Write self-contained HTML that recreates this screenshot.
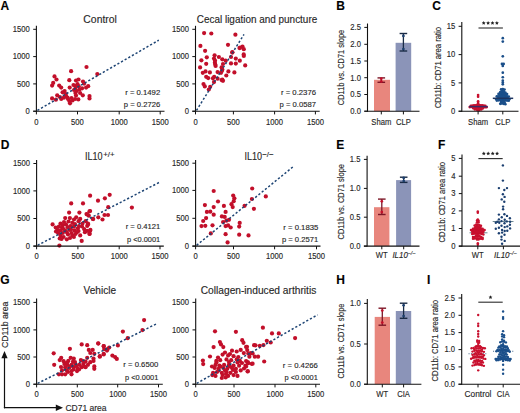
<!DOCTYPE html><html><head><meta charset="utf-8"><style>html,body{margin:0;padding:0;background:#fff;}svg{display:block;}</style></head><body><svg width="520" height="413" viewBox="0 0 520 413" font-family='"Liberation Sans", sans-serif'>
<style>text{stroke:#2a2a2a;stroke-width:0.14px;stroke-linejoin:round}</style>
<rect width="520" height="413" fill="#fff"/>
<text x="0.60" y="10.09" font-size="12.0" text-anchor="start" fill="#000" font-weight="bold">A</text>
<text x="336.20" y="9.99" font-size="12.0" text-anchor="start" fill="#000" font-weight="bold">B</text>
<text x="432.20" y="9.99" font-size="12.0" text-anchor="start" fill="#000" font-weight="bold">C</text>
<text x="100.10" y="22.90" font-size="10.4" text-anchor="middle" fill="#262626" font-weight="normal" textLength="33.5" lengthAdjust="spacingAndGlyphs">Control</text>
<circle cx="86.50" cy="67.00" r="2.1" fill="#c20f2a"/>
<circle cx="71.10" cy="71.20" r="2.1" fill="#c20f2a"/>
<circle cx="97.30" cy="74.10" r="2.1" fill="#c20f2a"/>
<circle cx="54.50" cy="76.40" r="2.1" fill="#c20f2a"/>
<circle cx="56.50" cy="79.50" r="2.1" fill="#c20f2a"/>
<circle cx="69.30" cy="80.20" r="2.1" fill="#c20f2a"/>
<circle cx="76.00" cy="80.50" r="2.1" fill="#c20f2a"/>
<circle cx="78.50" cy="79.50" r="2.1" fill="#c20f2a"/>
<circle cx="83.00" cy="81.50" r="2.1" fill="#c20f2a"/>
<circle cx="84.10" cy="83.60" r="2.1" fill="#c20f2a"/>
<circle cx="53.20" cy="82.90" r="2.1" fill="#c20f2a"/>
<circle cx="52.10" cy="85.60" r="2.1" fill="#c20f2a"/>
<circle cx="59.20" cy="85.60" r="2.1" fill="#c20f2a"/>
<circle cx="61.20" cy="87.60" r="2.1" fill="#c20f2a"/>
<circle cx="69.70" cy="87.60" r="2.1" fill="#c20f2a"/>
<circle cx="75.40" cy="86.20" r="2.1" fill="#c20f2a"/>
<circle cx="78.70" cy="86.20" r="2.1" fill="#c20f2a"/>
<circle cx="88.20" cy="86.20" r="2.1" fill="#c20f2a"/>
<circle cx="86.10" cy="87.60" r="2.1" fill="#c20f2a"/>
<circle cx="82.10" cy="88.30" r="2.1" fill="#c20f2a"/>
<circle cx="75.40" cy="88.90" r="2.1" fill="#c20f2a"/>
<circle cx="76.70" cy="91.00" r="2.1" fill="#c20f2a"/>
<circle cx="64.60" cy="91.00" r="2.1" fill="#c20f2a"/>
<circle cx="62.60" cy="92.30" r="2.1" fill="#c20f2a"/>
<circle cx="75.40" cy="93.00" r="2.1" fill="#c20f2a"/>
<circle cx="80.10" cy="93.00" r="2.1" fill="#c20f2a"/>
<circle cx="82.80" cy="95.30" r="2.1" fill="#c20f2a"/>
<circle cx="57.20" cy="95.30" r="2.1" fill="#c20f2a"/>
<circle cx="66.00" cy="96.10" r="2.1" fill="#c20f2a"/>
<circle cx="89.50" cy="96.10" r="2.1" fill="#c20f2a"/>
<circle cx="89.50" cy="98.40" r="2.1" fill="#c20f2a"/>
<circle cx="52.10" cy="98.40" r="2.1" fill="#c20f2a"/>
<circle cx="55.90" cy="99.70" r="2.1" fill="#c20f2a"/>
<circle cx="61.20" cy="99.00" r="2.1" fill="#c20f2a"/>
<circle cx="68.00" cy="99.00" r="2.1" fill="#c20f2a"/>
<circle cx="75.10" cy="99.00" r="2.1" fill="#c20f2a"/>
<circle cx="78.30" cy="99.40" r="2.1" fill="#c20f2a"/>
<circle cx="69.30" cy="101.00" r="2.1" fill="#c20f2a"/>
<circle cx="70.00" cy="103.30" r="2.1" fill="#c20f2a"/>
<circle cx="59.90" cy="97.00" r="2.1" fill="#c20f2a"/>
<circle cx="63.90" cy="97.70" r="2.1" fill="#c20f2a"/>
<circle cx="73.50" cy="85.00" r="2.1" fill="#c20f2a"/>
<circle cx="77.50" cy="84.00" r="2.1" fill="#c20f2a"/>
<circle cx="74.00" cy="90.00" r="2.1" fill="#c20f2a"/>
<circle cx="65.80" cy="94.00" r="2.1" fill="#c20f2a"/>
<circle cx="67.50" cy="97.50" r="2.1" fill="#c20f2a"/>
<circle cx="71.50" cy="98.00" r="2.1" fill="#c20f2a"/>
<circle cx="72.50" cy="100.50" r="2.1" fill="#c20f2a"/>
<circle cx="76.00" cy="95.50" r="2.1" fill="#c20f2a"/>
<circle cx="79.50" cy="89.50" r="2.1" fill="#c20f2a"/>
<line x1="37.40" y1="110.40" x2="158.80" y2="40.20" stroke="#1d4474" stroke-width="1.5" stroke-dasharray="2.2 2.0"/>
<line x1="36.40" y1="25.80" x2="36.40" y2="111.70" stroke="#111" stroke-width="1.1"/>
<line x1="33.20" y1="111.20" x2="36.40" y2="111.20" stroke="#111" stroke-width="1.0"/>
<text x="29.80" y="114.00" font-size="8.5" text-anchor="end" fill="#262626" font-weight="normal" textLength="4.25" lengthAdjust="spacingAndGlyphs">0</text>
<line x1="33.20" y1="83.90" x2="36.40" y2="83.90" stroke="#111" stroke-width="1.0"/>
<text x="29.80" y="86.70" font-size="8.5" text-anchor="end" fill="#262626" font-weight="normal" textLength="12.76" lengthAdjust="spacingAndGlyphs">500</text>
<line x1="33.20" y1="56.60" x2="36.40" y2="56.60" stroke="#111" stroke-width="1.0"/>
<text x="29.80" y="59.40" font-size="8.5" text-anchor="end" fill="#262626" font-weight="normal" textLength="17.02" lengthAdjust="spacingAndGlyphs">1000</text>
<line x1="33.20" y1="29.30" x2="36.40" y2="29.30" stroke="#111" stroke-width="1.0"/>
<text x="29.80" y="32.10" font-size="8.5" text-anchor="end" fill="#262626" font-weight="normal" textLength="17.02" lengthAdjust="spacingAndGlyphs">1500</text>
<line x1="33.20" y1="111.20" x2="164.50" y2="111.20" stroke="#111" stroke-width="1.1"/>
<line x1="36.40" y1="111.20" x2="36.40" y2="114.40" stroke="#111" stroke-width="1.0"/>
<text x="36.40" y="124.60" font-size="8.5" text-anchor="middle" fill="#262626" font-weight="normal" textLength="4.25" lengthAdjust="spacingAndGlyphs">0</text>
<line x1="77.50" y1="111.20" x2="77.50" y2="114.40" stroke="#111" stroke-width="1.0"/>
<text x="77.50" y="124.60" font-size="8.5" text-anchor="middle" fill="#262626" font-weight="normal" textLength="12.76" lengthAdjust="spacingAndGlyphs">500</text>
<line x1="119.20" y1="111.20" x2="119.20" y2="114.40" stroke="#111" stroke-width="1.0"/>
<text x="119.20" y="124.60" font-size="8.5" text-anchor="middle" fill="#262626" font-weight="normal" textLength="17.02" lengthAdjust="spacingAndGlyphs">1000</text>
<line x1="160.20" y1="111.20" x2="160.20" y2="114.40" stroke="#111" stroke-width="1.0"/>
<text x="160.20" y="124.60" font-size="8.5" text-anchor="middle" fill="#262626" font-weight="normal" textLength="17.02" lengthAdjust="spacingAndGlyphs">1500</text>
<text x="160.20" y="94.90" font-size="7.6" text-anchor="end" fill="#262626" font-weight="normal" textLength="35.0" lengthAdjust="spacingAndGlyphs">r = 0.1492</text>
<text x="160.20" y="106.70" font-size="7.6" text-anchor="end" fill="#262626" font-weight="normal" textLength="36.4" lengthAdjust="spacingAndGlyphs">p = 0.2726</text>
<text x="257.00" y="22.60" font-size="10.4" text-anchor="middle" fill="#262626" font-weight="normal" textLength="120.5" lengthAdjust="spacingAndGlyphs">Cecal ligation and puncture</text>
<circle cx="204.10" cy="33.10" r="2.1" fill="#c20f2a"/>
<circle cx="211.30" cy="33.50" r="2.1" fill="#c20f2a"/>
<circle cx="235.40" cy="34.70" r="2.1" fill="#c20f2a"/>
<circle cx="200.40" cy="45.90" r="2.1" fill="#c20f2a"/>
<circle cx="228.00" cy="44.80" r="2.1" fill="#c20f2a"/>
<circle cx="240.10" cy="47.60" r="2.1" fill="#c20f2a"/>
<circle cx="242.50" cy="46.50" r="2.1" fill="#c20f2a"/>
<circle cx="243.80" cy="49.20" r="2.1" fill="#c20f2a"/>
<circle cx="205.10" cy="50.80" r="2.1" fill="#c20f2a"/>
<circle cx="232.40" cy="52.60" r="2.1" fill="#c20f2a"/>
<circle cx="243.80" cy="56.00" r="2.1" fill="#c20f2a"/>
<circle cx="214.60" cy="55.30" r="2.1" fill="#c20f2a"/>
<circle cx="206.80" cy="57.30" r="2.1" fill="#c20f2a"/>
<circle cx="218.90" cy="57.00" r="2.1" fill="#c20f2a"/>
<circle cx="231.00" cy="57.00" r="2.1" fill="#c20f2a"/>
<circle cx="235.80" cy="58.60" r="2.1" fill="#c20f2a"/>
<circle cx="201.40" cy="60.30" r="2.1" fill="#c20f2a"/>
<circle cx="214.00" cy="58.60" r="2.1" fill="#c20f2a"/>
<circle cx="222.30" cy="59.30" r="2.1" fill="#c20f2a"/>
<circle cx="225.70" cy="60.70" r="2.1" fill="#c20f2a"/>
<circle cx="239.80" cy="60.70" r="2.1" fill="#c20f2a"/>
<circle cx="206.20" cy="63.80" r="2.1" fill="#c20f2a"/>
<circle cx="214.90" cy="62.70" r="2.1" fill="#c20f2a"/>
<circle cx="231.00" cy="63.40" r="2.1" fill="#c20f2a"/>
<circle cx="235.80" cy="63.60" r="2.1" fill="#c20f2a"/>
<circle cx="223.00" cy="64.00" r="2.1" fill="#c20f2a"/>
<circle cx="245.20" cy="65.40" r="2.1" fill="#c20f2a"/>
<circle cx="200.10" cy="67.40" r="2.1" fill="#c20f2a"/>
<circle cx="215.60" cy="66.00" r="2.1" fill="#c20f2a"/>
<circle cx="221.60" cy="67.40" r="2.1" fill="#c20f2a"/>
<circle cx="222.30" cy="69.40" r="2.1" fill="#c20f2a"/>
<circle cx="202.80" cy="72.80" r="2.1" fill="#c20f2a"/>
<circle cx="205.50" cy="71.40" r="2.1" fill="#c20f2a"/>
<circle cx="209.90" cy="72.40" r="2.1" fill="#c20f2a"/>
<circle cx="217.60" cy="72.10" r="2.1" fill="#c20f2a"/>
<circle cx="221.00" cy="72.80" r="2.1" fill="#c20f2a"/>
<circle cx="228.40" cy="71.40" r="2.1" fill="#c20f2a"/>
<circle cx="234.40" cy="72.40" r="2.1" fill="#c20f2a"/>
<circle cx="226.30" cy="75.50" r="2.1" fill="#c20f2a"/>
<circle cx="206.20" cy="76.80" r="2.1" fill="#c20f2a"/>
<circle cx="214.20" cy="76.80" r="2.1" fill="#c20f2a"/>
<circle cx="222.30" cy="79.50" r="2.1" fill="#c20f2a"/>
<circle cx="208.20" cy="78.10" r="2.1" fill="#c20f2a"/>
<circle cx="212.90" cy="78.30" r="2.1" fill="#c20f2a"/>
<circle cx="217.60" cy="78.70" r="2.1" fill="#c20f2a"/>
<circle cx="221.60" cy="80.10" r="2.1" fill="#c20f2a"/>
<circle cx="223.00" cy="80.80" r="2.1" fill="#c20f2a"/>
<circle cx="214.00" cy="82.10" r="2.1" fill="#c20f2a"/>
<circle cx="203.50" cy="84.10" r="2.1" fill="#c20f2a"/>
<circle cx="204.80" cy="86.40" r="2.1" fill="#c20f2a"/>
<circle cx="210.20" cy="86.80" r="2.1" fill="#c20f2a"/>
<circle cx="208.80" cy="89.50" r="2.1" fill="#c20f2a"/>
<circle cx="239.50" cy="48.10" r="2.1" fill="#c20f2a"/>
<circle cx="232.30" cy="52.20" r="2.1" fill="#c20f2a"/>
<circle cx="243.70" cy="54.40" r="2.1" fill="#c20f2a"/>
<circle cx="215.00" cy="60.50" r="2.1" fill="#c20f2a"/>
<circle cx="215.30" cy="64.50" r="2.1" fill="#c20f2a"/>
<circle cx="222.00" cy="70.80" r="2.1" fill="#c20f2a"/>
<line x1="196.50" y1="110.40" x2="244.00" y2="34.40" stroke="#1d4474" stroke-width="1.5" stroke-dasharray="2.2 2.0"/>
<line x1="195.50" y1="25.80" x2="195.50" y2="111.70" stroke="#111" stroke-width="1.1"/>
<line x1="192.30" y1="111.20" x2="195.50" y2="111.20" stroke="#111" stroke-width="1.0"/>
<text x="188.90" y="114.00" font-size="8.5" text-anchor="end" fill="#262626" font-weight="normal" textLength="4.25" lengthAdjust="spacingAndGlyphs">0</text>
<line x1="192.30" y1="83.90" x2="195.50" y2="83.90" stroke="#111" stroke-width="1.0"/>
<text x="188.90" y="86.70" font-size="8.5" text-anchor="end" fill="#262626" font-weight="normal" textLength="12.76" lengthAdjust="spacingAndGlyphs">500</text>
<line x1="192.30" y1="56.60" x2="195.50" y2="56.60" stroke="#111" stroke-width="1.0"/>
<text x="188.90" y="59.40" font-size="8.5" text-anchor="end" fill="#262626" font-weight="normal" textLength="17.02" lengthAdjust="spacingAndGlyphs">1000</text>
<line x1="192.30" y1="29.30" x2="195.50" y2="29.30" stroke="#111" stroke-width="1.0"/>
<text x="188.90" y="32.10" font-size="8.5" text-anchor="end" fill="#262626" font-weight="normal" textLength="17.02" lengthAdjust="spacingAndGlyphs">1500</text>
<line x1="192.30" y1="111.20" x2="319.70" y2="111.20" stroke="#111" stroke-width="1.1"/>
<line x1="195.50" y1="111.20" x2="195.50" y2="114.40" stroke="#111" stroke-width="1.0"/>
<text x="195.50" y="124.60" font-size="8.5" text-anchor="middle" fill="#262626" font-weight="normal" textLength="4.25" lengthAdjust="spacingAndGlyphs">0</text>
<line x1="233.40" y1="111.20" x2="233.40" y2="114.40" stroke="#111" stroke-width="1.0"/>
<text x="233.40" y="124.60" font-size="8.5" text-anchor="middle" fill="#262626" font-weight="normal" textLength="12.76" lengthAdjust="spacingAndGlyphs">500</text>
<line x1="274.60" y1="111.20" x2="274.60" y2="114.40" stroke="#111" stroke-width="1.0"/>
<text x="274.60" y="124.60" font-size="8.5" text-anchor="middle" fill="#262626" font-weight="normal" textLength="17.02" lengthAdjust="spacingAndGlyphs">1000</text>
<line x1="315.40" y1="111.20" x2="315.40" y2="114.40" stroke="#111" stroke-width="1.0"/>
<text x="315.40" y="124.60" font-size="8.5" text-anchor="middle" fill="#262626" font-weight="normal" textLength="17.02" lengthAdjust="spacingAndGlyphs">1500</text>
<text x="316.00" y="94.90" font-size="7.6" text-anchor="end" fill="#262626" font-weight="normal" textLength="35.0" lengthAdjust="spacingAndGlyphs">r = 0.2376</text>
<text x="316.00" y="106.70" font-size="7.6" text-anchor="end" fill="#262626" font-weight="normal" textLength="36.4" lengthAdjust="spacingAndGlyphs">p = 0.0587</text>
<rect x="374.00" y="79.80" width="16.00" height="31.40" fill="#e8867d"/>
<line x1="381.30" y1="77.90" x2="381.30" y2="82.30" stroke="#7c1626" stroke-width="1.3"/>
<line x1="377.50" y1="77.90" x2="385.10" y2="77.90" stroke="#7c1626" stroke-width="1.4"/>
<line x1="377.50" y1="82.30" x2="385.10" y2="82.30" stroke="#7c1626" stroke-width="1.4"/>
<circle cx="381.30" cy="78.70" r="1.35" fill="#c20f2a"/>
<circle cx="381.30" cy="81.50" r="1.35" fill="#c20f2a"/>
<rect x="395.60" y="42.80" width="15.60" height="68.40" fill="#8b94b8"/>
<line x1="403.40" y1="33.50" x2="403.40" y2="51.00" stroke="#1a2b45" stroke-width="1.3"/>
<line x1="399.60" y1="33.50" x2="407.20" y2="33.50" stroke="#1a2b45" stroke-width="1.4"/>
<line x1="399.60" y1="51.00" x2="407.20" y2="51.00" stroke="#1a2b45" stroke-width="1.4"/>
<circle cx="403.40" cy="35.90" r="1.35" fill="#1c3f6e"/>
<circle cx="403.40" cy="49.00" r="1.35" fill="#1c3f6e"/>
<line x1="367.50" y1="23.50" x2="367.50" y2="111.70" stroke="#111" stroke-width="1.1"/>
<line x1="364.30" y1="111.20" x2="367.50" y2="111.20" stroke="#111" stroke-width="1.0"/>
<text x="360.90" y="114.00" font-size="8.5" text-anchor="end" fill="#262626" font-weight="normal" textLength="10.63" lengthAdjust="spacingAndGlyphs">0.0</text>
<line x1="364.30" y1="94.50" x2="367.50" y2="94.50" stroke="#111" stroke-width="1.0"/>
<text x="360.90" y="97.30" font-size="8.5" text-anchor="end" fill="#262626" font-weight="normal" textLength="10.63" lengthAdjust="spacingAndGlyphs">0.5</text>
<line x1="364.30" y1="77.70" x2="367.50" y2="77.70" stroke="#111" stroke-width="1.0"/>
<text x="360.90" y="80.50" font-size="8.5" text-anchor="end" fill="#262626" font-weight="normal" textLength="10.63" lengthAdjust="spacingAndGlyphs">1.0</text>
<line x1="364.30" y1="61.00" x2="367.50" y2="61.00" stroke="#111" stroke-width="1.0"/>
<text x="360.90" y="63.80" font-size="8.5" text-anchor="end" fill="#262626" font-weight="normal" textLength="10.63" lengthAdjust="spacingAndGlyphs">1.5</text>
<line x1="364.30" y1="44.30" x2="367.50" y2="44.30" stroke="#111" stroke-width="1.0"/>
<text x="360.90" y="47.10" font-size="8.5" text-anchor="end" fill="#262626" font-weight="normal" textLength="10.63" lengthAdjust="spacingAndGlyphs">2.0</text>
<line x1="364.30" y1="27.40" x2="367.50" y2="27.40" stroke="#111" stroke-width="1.0"/>
<text x="360.90" y="30.20" font-size="8.5" text-anchor="end" fill="#262626" font-weight="normal" textLength="10.63" lengthAdjust="spacingAndGlyphs">2.5</text>
<line x1="364.30" y1="111.20" x2="419.50" y2="111.20" stroke="#111" stroke-width="1.1"/>
<line x1="381.30" y1="111.20" x2="381.30" y2="114.40" stroke="#111" stroke-width="1.0"/>
<text x="381.30" y="124.70" font-size="8.5" text-anchor="middle" fill="#262626" font-weight="normal" textLength="19.99" lengthAdjust="spacingAndGlyphs">Sham</text>
<line x1="403.40" y1="111.20" x2="403.40" y2="114.40" stroke="#111" stroke-width="1.0"/>
<text x="403.40" y="124.70" font-size="8.5" text-anchor="middle" fill="#262626" font-weight="normal" textLength="14.88" lengthAdjust="spacingAndGlyphs">CLP</text>
<text transform="translate(343.70,105.20) rotate(-90)" font-size="8.8" fill="#262626" textLength="75.4" lengthAdjust="spacingAndGlyphs">CD11b vs. CD71 slope</text>
<circle cx="478.10" cy="107.36" r="1.35" fill="#c8102e"/>
<circle cx="476.50" cy="107.47" r="1.35" fill="#c8102e"/>
<circle cx="479.70" cy="107.81" r="1.35" fill="#c8102e"/>
<circle cx="474.90" cy="108.03" r="1.35" fill="#c8102e"/>
<circle cx="481.30" cy="108.16" r="1.35" fill="#c8102e"/>
<circle cx="473.30" cy="108.18" r="1.35" fill="#c8102e"/>
<circle cx="482.90" cy="108.28" r="1.35" fill="#c8102e"/>
<circle cx="478.10" cy="106.00" r="1.35" fill="#c8102e"/>
<circle cx="476.90" cy="106.09" r="1.35" fill="#c8102e"/>
<circle cx="479.30" cy="106.11" r="1.35" fill="#c8102e"/>
<circle cx="475.70" cy="106.28" r="1.35" fill="#c8102e"/>
<circle cx="480.50" cy="106.39" r="1.35" fill="#c8102e"/>
<circle cx="474.50" cy="106.41" r="1.35" fill="#c8102e"/>
<circle cx="481.70" cy="106.44" r="1.35" fill="#c8102e"/>
<circle cx="473.30" cy="106.52" r="1.35" fill="#c8102e"/>
<circle cx="482.90" cy="106.57" r="1.35" fill="#c8102e"/>
<circle cx="472.10" cy="106.74" r="1.35" fill="#c8102e"/>
<circle cx="484.10" cy="106.82" r="1.35" fill="#c8102e"/>
<circle cx="470.90" cy="107.01" r="1.35" fill="#c8102e"/>
<circle cx="485.30" cy="107.03" r="1.35" fill="#c8102e"/>
<circle cx="469.70" cy="107.04" r="1.35" fill="#c8102e"/>
<circle cx="486.50" cy="107.14" r="1.35" fill="#c8102e"/>
<circle cx="478.10" cy="108.72" r="1.35" fill="#c8102e"/>
<circle cx="476.50" cy="108.83" r="1.35" fill="#c8102e"/>
<circle cx="479.70" cy="109.15" r="1.35" fill="#c8102e"/>
<circle cx="474.90" cy="109.47" r="1.35" fill="#c8102e"/>
<circle cx="481.30" cy="109.48" r="1.35" fill="#c8102e"/>
<circle cx="477.30" cy="109.92" r="1.35" fill="#c8102e"/>
<circle cx="478.90" cy="110.27" r="1.35" fill="#c8102e"/>
<circle cx="477.30" cy="104.92" r="1.35" fill="#c8102e"/>
<circle cx="478.90" cy="105.03" r="1.35" fill="#c8102e"/>
<circle cx="475.70" cy="105.32" r="1.35" fill="#c8102e"/>
<circle cx="480.50" cy="105.32" r="1.35" fill="#c8102e"/>
<circle cx="474.10" cy="105.38" r="1.35" fill="#c8102e"/>
<circle cx="482.10" cy="105.40" r="1.35" fill="#c8102e"/>
<circle cx="472.50" cy="105.55" r="1.35" fill="#c8102e"/>
<circle cx="483.70" cy="105.56" r="1.35" fill="#c8102e"/>
<circle cx="470.90" cy="105.74" r="1.35" fill="#c8102e"/>
<circle cx="485.30" cy="105.93" r="1.35" fill="#c8102e"/>
<circle cx="478.10" cy="104.12" r="1.35" fill="#c8102e"/>
<circle cx="478.10" cy="102.99" r="1.35" fill="#c8102e"/>
<circle cx="478.10" cy="101.30" r="1.35" fill="#c8102e"/>
<circle cx="478.10" cy="96.77" r="1.35" fill="#c8102e"/>
<circle cx="478.10" cy="95.07" r="1.35" fill="#c8102e"/>
<line x1="469.00" y1="106.60" x2="487.80" y2="106.60" stroke="#3b2a66" stroke-width="1.5"/>
<circle cx="501.95" cy="94.27" r="1.35" fill="#1b4f8a"/>
<circle cx="503.65" cy="94.67" r="1.35" fill="#1b4f8a"/>
<circle cx="500.25" cy="94.68" r="1.35" fill="#1b4f8a"/>
<circle cx="505.35" cy="95.35" r="1.35" fill="#1b4f8a"/>
<circle cx="501.95" cy="99.55" r="1.35" fill="#1b4f8a"/>
<circle cx="503.65" cy="99.74" r="1.35" fill="#1b4f8a"/>
<circle cx="500.25" cy="99.93" r="1.35" fill="#1b4f8a"/>
<circle cx="505.35" cy="100.20" r="1.35" fill="#1b4f8a"/>
<circle cx="498.55" cy="100.36" r="1.35" fill="#1b4f8a"/>
<circle cx="507.05" cy="100.54" r="1.35" fill="#1b4f8a"/>
<circle cx="496.85" cy="100.62" r="1.35" fill="#1b4f8a"/>
<circle cx="508.75" cy="100.68" r="1.35" fill="#1b4f8a"/>
<circle cx="502.80" cy="98.28" r="1.35" fill="#1b4f8a"/>
<circle cx="501.10" cy="98.36" r="1.35" fill="#1b4f8a"/>
<circle cx="504.50" cy="98.46" r="1.35" fill="#1b4f8a"/>
<circle cx="499.40" cy="98.56" r="1.35" fill="#1b4f8a"/>
<circle cx="506.20" cy="98.56" r="1.35" fill="#1b4f8a"/>
<circle cx="497.70" cy="98.63" r="1.35" fill="#1b4f8a"/>
<circle cx="507.90" cy="98.66" r="1.35" fill="#1b4f8a"/>
<circle cx="496.00" cy="99.06" r="1.35" fill="#1b4f8a"/>
<circle cx="509.60" cy="99.07" r="1.35" fill="#1b4f8a"/>
<circle cx="501.95" cy="95.71" r="1.35" fill="#1b4f8a"/>
<circle cx="503.65" cy="95.72" r="1.35" fill="#1b4f8a"/>
<circle cx="500.25" cy="96.02" r="1.35" fill="#1b4f8a"/>
<circle cx="505.35" cy="96.12" r="1.35" fill="#1b4f8a"/>
<circle cx="498.55" cy="96.26" r="1.35" fill="#1b4f8a"/>
<circle cx="507.05" cy="96.31" r="1.35" fill="#1b4f8a"/>
<circle cx="496.85" cy="96.33" r="1.35" fill="#1b4f8a"/>
<circle cx="508.75" cy="96.57" r="1.35" fill="#1b4f8a"/>
<circle cx="501.95" cy="96.88" r="1.35" fill="#1b4f8a"/>
<circle cx="503.65" cy="97.17" r="1.35" fill="#1b4f8a"/>
<circle cx="500.25" cy="97.59" r="1.35" fill="#1b4f8a"/>
<circle cx="505.35" cy="97.63" r="1.35" fill="#1b4f8a"/>
<circle cx="498.55" cy="97.88" r="1.35" fill="#1b4f8a"/>
<circle cx="507.05" cy="97.96" r="1.35" fill="#1b4f8a"/>
<circle cx="501.95" cy="93.16" r="1.35" fill="#1b4f8a"/>
<circle cx="503.65" cy="93.38" r="1.35" fill="#1b4f8a"/>
<circle cx="500.25" cy="93.42" r="1.35" fill="#1b4f8a"/>
<circle cx="505.35" cy="93.89" r="1.35" fill="#1b4f8a"/>
<circle cx="498.55" cy="93.95" r="1.35" fill="#1b4f8a"/>
<circle cx="507.05" cy="93.99" r="1.35" fill="#1b4f8a"/>
<circle cx="502.80" cy="100.76" r="1.35" fill="#1b4f8a"/>
<circle cx="501.10" cy="101.46" r="1.35" fill="#1b4f8a"/>
<circle cx="504.50" cy="101.99" r="1.35" fill="#1b4f8a"/>
<circle cx="501.95" cy="103.43" r="1.35" fill="#1b4f8a"/>
<circle cx="503.65" cy="103.81" r="1.35" fill="#1b4f8a"/>
<circle cx="500.25" cy="103.83" r="1.35" fill="#1b4f8a"/>
<circle cx="505.35" cy="104.14" r="1.35" fill="#1b4f8a"/>
<circle cx="502.80" cy="102.14" r="1.35" fill="#1b4f8a"/>
<circle cx="501.10" cy="103.00" r="1.35" fill="#1b4f8a"/>
<circle cx="504.50" cy="103.19" r="1.35" fill="#1b4f8a"/>
<circle cx="501.95" cy="91.74" r="1.35" fill="#1b4f8a"/>
<circle cx="503.65" cy="92.03" r="1.35" fill="#1b4f8a"/>
<circle cx="500.25" cy="92.19" r="1.35" fill="#1b4f8a"/>
<circle cx="505.35" cy="92.53" r="1.35" fill="#1b4f8a"/>
<circle cx="501.95" cy="90.94" r="1.35" fill="#1b4f8a"/>
<circle cx="503.65" cy="91.42" r="1.35" fill="#1b4f8a"/>
<circle cx="502.80" cy="89.07" r="1.35" fill="#1b4f8a"/>
<circle cx="501.10" cy="89.40" r="1.35" fill="#1b4f8a"/>
<circle cx="504.50" cy="89.55" r="1.35" fill="#1b4f8a"/>
<circle cx="502.80" cy="84.31" r="1.35" fill="#1b4f8a"/>
<circle cx="502.80" cy="82.62" r="1.35" fill="#1b4f8a"/>
<circle cx="502.80" cy="80.64" r="1.35" fill="#1b4f8a"/>
<circle cx="502.80" cy="77.24" r="1.35" fill="#1b4f8a"/>
<circle cx="502.80" cy="72.71" r="1.35" fill="#1b4f8a"/>
<circle cx="501.95" cy="63.94" r="1.35" fill="#1b4f8a"/>
<circle cx="503.65" cy="63.94" r="1.35" fill="#1b4f8a"/>
<circle cx="502.80" cy="65.92" r="1.35" fill="#1b4f8a"/>
<circle cx="502.80" cy="56.30" r="1.35" fill="#1b4f8a"/>
<circle cx="502.80" cy="41.58" r="1.35" fill="#1b4f8a"/>
<circle cx="502.80" cy="38.19" r="1.35" fill="#1b4f8a"/>
<line x1="492.80" y1="98.30" x2="513.20" y2="98.30" stroke="#1e3560" stroke-width="1.5"/>
<line x1="461.80" y1="22.00" x2="461.80" y2="111.70" stroke="#111" stroke-width="1.1"/>
<line x1="458.60" y1="111.20" x2="461.80" y2="111.20" stroke="#111" stroke-width="1.0"/>
<text x="455.20" y="114.00" font-size="8.5" text-anchor="end" fill="#262626" font-weight="normal" textLength="4.25" lengthAdjust="spacingAndGlyphs">0</text>
<line x1="458.60" y1="82.90" x2="461.80" y2="82.90" stroke="#111" stroke-width="1.0"/>
<text x="455.20" y="85.70" font-size="8.5" text-anchor="end" fill="#262626" font-weight="normal" textLength="4.25" lengthAdjust="spacingAndGlyphs">5</text>
<line x1="458.60" y1="54.60" x2="461.80" y2="54.60" stroke="#111" stroke-width="1.0"/>
<text x="455.20" y="57.40" font-size="8.5" text-anchor="end" fill="#262626" font-weight="normal" textLength="8.51" lengthAdjust="spacingAndGlyphs">10</text>
<line x1="458.60" y1="26.30" x2="461.80" y2="26.30" stroke="#111" stroke-width="1.0"/>
<text x="455.20" y="29.10" font-size="8.5" text-anchor="end" fill="#262626" font-weight="normal" textLength="8.51" lengthAdjust="spacingAndGlyphs">15</text>
<line x1="458.60" y1="111.20" x2="518.50" y2="111.20" stroke="#111" stroke-width="1.1"/>
<line x1="478.10" y1="111.20" x2="478.10" y2="114.40" stroke="#111" stroke-width="1.0"/>
<text x="478.10" y="124.70" font-size="8.5" text-anchor="middle" fill="#262626" font-weight="normal" textLength="19.99" lengthAdjust="spacingAndGlyphs">Sham</text>
<line x1="502.80" y1="111.20" x2="502.80" y2="114.40" stroke="#111" stroke-width="1.0"/>
<text x="502.80" y="124.70" font-size="8.5" text-anchor="middle" fill="#262626" font-weight="normal" textLength="14.88" lengthAdjust="spacingAndGlyphs">CLP</text>
<text transform="translate(440.50,108.30) rotate(-90)" font-size="8.8" fill="#262626" textLength="81.3" lengthAdjust="spacingAndGlyphs">CD11b: CD71 area ratio</text>
<line x1="478.50" y1="28.00" x2="502.90" y2="28.00" stroke="#333" stroke-width="1.15"/>
<polygon points="483.70,21.10 484.29,22.29 485.60,22.48 484.65,23.41 484.88,24.72 483.70,24.10 482.52,24.72 482.75,23.41 481.80,22.48 483.11,22.29" fill="#222"/>
<polygon points="488.10,21.10 488.69,22.29 490.00,22.48 489.05,23.41 489.28,24.72 488.10,24.10 486.92,24.72 487.15,23.41 486.20,22.48 487.51,22.29" fill="#222"/>
<polygon points="492.50,21.10 493.09,22.29 494.40,22.48 493.45,23.41 493.68,24.72 492.50,24.10 491.32,24.72 491.55,23.41 490.60,22.48 491.91,22.29" fill="#222"/>
<polygon points="496.90,21.10 497.49,22.29 498.80,22.48 497.85,23.41 498.08,24.72 496.90,24.10 495.72,24.72 495.95,23.41 495.00,22.48 496.31,22.29" fill="#222"/>
<text x="0.80" y="148.89" font-size="12.0" text-anchor="start" fill="#000" font-weight="bold">D</text>
<text x="336.20" y="148.89" font-size="12.0" text-anchor="start" fill="#000" font-weight="bold">E</text>
<text x="437.90" y="148.89" font-size="12.0" text-anchor="start" fill="#000" font-weight="bold">F</text>
<text x="85.0" y="159.8" font-size="10.4" fill="#262626" textLength="17.6" lengthAdjust="spacingAndGlyphs">IL10</text>
<text x="103.2" y="156.6" font-size="7.8" fill="#262626" textLength="11.4" lengthAdjust="spacingAndGlyphs">+/+</text>
<circle cx="90.10" cy="195.70" r="2.1" fill="#c20f2a"/>
<circle cx="98.00" cy="200.70" r="2.1" fill="#c20f2a"/>
<circle cx="71.20" cy="203.40" r="2.1" fill="#c20f2a"/>
<circle cx="83.00" cy="203.40" r="2.1" fill="#c20f2a"/>
<circle cx="69.10" cy="212.60" r="2.1" fill="#c20f2a"/>
<circle cx="79.40" cy="212.60" r="2.1" fill="#c20f2a"/>
<circle cx="90.10" cy="211.00" r="2.1" fill="#c20f2a"/>
<circle cx="86.50" cy="214.10" r="2.1" fill="#c20f2a"/>
<circle cx="88.80" cy="215.70" r="2.1" fill="#c20f2a"/>
<circle cx="98.30" cy="217.30" r="2.1" fill="#c20f2a"/>
<circle cx="65.20" cy="218.10" r="2.1" fill="#c20f2a"/>
<circle cx="69.90" cy="218.10" r="2.1" fill="#c20f2a"/>
<circle cx="76.20" cy="217.30" r="2.1" fill="#c20f2a"/>
<circle cx="80.20" cy="218.90" r="2.1" fill="#c20f2a"/>
<circle cx="92.80" cy="218.90" r="2.1" fill="#c20f2a"/>
<circle cx="85.70" cy="221.20" r="2.1" fill="#c20f2a"/>
<circle cx="72.30" cy="222.80" r="2.1" fill="#c20f2a"/>
<circle cx="78.60" cy="221.20" r="2.1" fill="#c20f2a"/>
<circle cx="82.50" cy="223.60" r="2.1" fill="#c20f2a"/>
<circle cx="88.00" cy="223.60" r="2.1" fill="#c20f2a"/>
<circle cx="52.60" cy="224.40" r="2.1" fill="#c20f2a"/>
<circle cx="60.50" cy="223.60" r="2.1" fill="#c20f2a"/>
<circle cx="62.80" cy="225.20" r="2.1" fill="#c20f2a"/>
<circle cx="66.00" cy="224.40" r="2.1" fill="#c20f2a"/>
<circle cx="87.20" cy="225.90" r="2.1" fill="#c20f2a"/>
<circle cx="55.70" cy="227.50" r="2.1" fill="#c20f2a"/>
<circle cx="58.90" cy="226.70" r="2.1" fill="#c20f2a"/>
<circle cx="62.00" cy="227.50" r="2.1" fill="#c20f2a"/>
<circle cx="67.60" cy="227.20" r="2.1" fill="#c20f2a"/>
<circle cx="73.90" cy="226.70" r="2.1" fill="#c20f2a"/>
<circle cx="77.80" cy="228.30" r="2.1" fill="#c20f2a"/>
<circle cx="84.10" cy="229.10" r="2.1" fill="#c20f2a"/>
<circle cx="57.30" cy="229.90" r="2.1" fill="#c20f2a"/>
<circle cx="60.50" cy="230.70" r="2.1" fill="#c20f2a"/>
<circle cx="65.20" cy="230.70" r="2.1" fill="#c20f2a"/>
<circle cx="69.90" cy="229.90" r="2.1" fill="#c20f2a"/>
<circle cx="74.60" cy="230.70" r="2.1" fill="#c20f2a"/>
<circle cx="90.40" cy="229.90" r="2.1" fill="#c20f2a"/>
<circle cx="84.90" cy="232.20" r="2.1" fill="#c20f2a"/>
<circle cx="58.10" cy="233.00" r="2.1" fill="#c20f2a"/>
<circle cx="62.80" cy="233.00" r="2.1" fill="#c20f2a"/>
<circle cx="66.80" cy="232.20" r="2.1" fill="#c20f2a"/>
<circle cx="71.50" cy="233.00" r="2.1" fill="#c20f2a"/>
<circle cx="77.00" cy="232.20" r="2.1" fill="#c20f2a"/>
<circle cx="89.60" cy="233.80" r="2.1" fill="#c20f2a"/>
<circle cx="60.50" cy="235.40" r="2.1" fill="#c20f2a"/>
<circle cx="72.30" cy="235.40" r="2.1" fill="#c20f2a"/>
<circle cx="80.20" cy="235.40" r="2.1" fill="#c20f2a"/>
<circle cx="63.60" cy="237.00" r="2.1" fill="#c20f2a"/>
<circle cx="73.90" cy="237.00" r="2.1" fill="#c20f2a"/>
<circle cx="59.70" cy="238.50" r="2.1" fill="#c20f2a"/>
<circle cx="66.80" cy="239.30" r="2.1" fill="#c20f2a"/>
<circle cx="81.70" cy="240.90" r="2.1" fill="#c20f2a"/>
<circle cx="59.40" cy="245.60" r="2.1" fill="#c20f2a"/>
<circle cx="104.90" cy="198.30" r="2.1" fill="#c20f2a"/>
<circle cx="109.70" cy="194.80" r="2.1" fill="#c20f2a"/>
<circle cx="108.20" cy="207.20" r="2.1" fill="#c20f2a"/>
<circle cx="131.90" cy="207.60" r="2.1" fill="#c20f2a"/>
<circle cx="89.50" cy="211.30" r="2.1" fill="#c20f2a"/>
<circle cx="87.10" cy="214.40" r="2.1" fill="#c20f2a"/>
<circle cx="93.20" cy="219.10" r="2.1" fill="#c20f2a"/>
<circle cx="104.50" cy="215.00" r="2.1" fill="#c20f2a"/>
<circle cx="108.00" cy="215.00" r="2.1" fill="#c20f2a"/>
<circle cx="102.50" cy="219.50" r="2.1" fill="#c20f2a"/>
<circle cx="88.10" cy="224.60" r="2.1" fill="#c20f2a"/>
<circle cx="87.10" cy="230.80" r="2.1" fill="#c20f2a"/>
<circle cx="90.10" cy="230.80" r="2.1" fill="#c20f2a"/>
<circle cx="89.50" cy="233.90" r="2.1" fill="#c20f2a"/>
<circle cx="64.00" cy="222.00" r="2.1" fill="#c20f2a"/>
<circle cx="68.50" cy="221.50" r="2.1" fill="#c20f2a"/>
<circle cx="75.00" cy="224.00" r="2.1" fill="#c20f2a"/>
<circle cx="79.00" cy="226.00" r="2.1" fill="#c20f2a"/>
<circle cx="70.50" cy="226.00" r="2.1" fill="#c20f2a"/>
<circle cx="63.50" cy="229.00" r="2.1" fill="#c20f2a"/>
<circle cx="68.00" cy="234.50" r="2.1" fill="#c20f2a"/>
<circle cx="75.50" cy="234.00" r="2.1" fill="#c20f2a"/>
<circle cx="78.50" cy="231.00" r="2.1" fill="#c20f2a"/>
<circle cx="56.00" cy="231.50" r="2.1" fill="#c20f2a"/>
<circle cx="61.50" cy="239.00" r="2.1" fill="#c20f2a"/>
<circle cx="70.00" cy="238.00" r="2.1" fill="#c20f2a"/>
<circle cx="82.00" cy="226.50" r="2.1" fill="#c20f2a"/>
<circle cx="71.00" cy="229.50" r="2.1" fill="#c20f2a"/>
<circle cx="74.00" cy="219.50" r="2.1" fill="#c20f2a"/>
<line x1="37.60" y1="245.30" x2="159.00" y2="182.50" stroke="#1d4474" stroke-width="1.5" stroke-dasharray="2.2 2.0"/>
<line x1="36.60" y1="160.00" x2="36.60" y2="246.60" stroke="#111" stroke-width="1.1"/>
<line x1="33.40" y1="246.10" x2="36.60" y2="246.10" stroke="#111" stroke-width="1.0"/>
<text x="30.00" y="248.90" font-size="8.5" text-anchor="end" fill="#262626" font-weight="normal" textLength="4.25" lengthAdjust="spacingAndGlyphs">0</text>
<line x1="33.40" y1="218.50" x2="36.60" y2="218.50" stroke="#111" stroke-width="1.0"/>
<text x="30.00" y="221.30" font-size="8.5" text-anchor="end" fill="#262626" font-weight="normal" textLength="12.76" lengthAdjust="spacingAndGlyphs">500</text>
<line x1="33.40" y1="190.90" x2="36.60" y2="190.90" stroke="#111" stroke-width="1.0"/>
<text x="30.00" y="193.70" font-size="8.5" text-anchor="end" fill="#262626" font-weight="normal" textLength="17.02" lengthAdjust="spacingAndGlyphs">1000</text>
<line x1="33.40" y1="163.50" x2="36.60" y2="163.50" stroke="#111" stroke-width="1.0"/>
<text x="30.00" y="166.30" font-size="8.5" text-anchor="end" fill="#262626" font-weight="normal" textLength="17.02" lengthAdjust="spacingAndGlyphs">1500</text>
<line x1="33.40" y1="246.10" x2="163.80" y2="246.10" stroke="#111" stroke-width="1.1"/>
<line x1="36.60" y1="246.10" x2="36.60" y2="249.30" stroke="#111" stroke-width="1.0"/>
<text x="36.60" y="259.30" font-size="8.5" text-anchor="middle" fill="#262626" font-weight="normal" textLength="4.25" lengthAdjust="spacingAndGlyphs">0</text>
<line x1="77.90" y1="246.10" x2="77.90" y2="249.30" stroke="#111" stroke-width="1.0"/>
<text x="77.90" y="259.30" font-size="8.5" text-anchor="middle" fill="#262626" font-weight="normal" textLength="12.76" lengthAdjust="spacingAndGlyphs">500</text>
<line x1="119.20" y1="246.10" x2="119.20" y2="249.30" stroke="#111" stroke-width="1.0"/>
<text x="119.20" y="259.30" font-size="8.5" text-anchor="middle" fill="#262626" font-weight="normal" textLength="17.02" lengthAdjust="spacingAndGlyphs">1000</text>
<line x1="160.00" y1="246.10" x2="160.00" y2="249.30" stroke="#111" stroke-width="1.0"/>
<text x="160.00" y="259.30" font-size="8.5" text-anchor="middle" fill="#262626" font-weight="normal" textLength="17.02" lengthAdjust="spacingAndGlyphs">1500</text>
<text x="160.20" y="229.00" font-size="7.6" text-anchor="end" fill="#262626" font-weight="normal" textLength="34.5" lengthAdjust="spacingAndGlyphs">r = 0.4121</text>
<text x="160.20" y="241.60" font-size="7.6" text-anchor="end" fill="#262626" font-weight="normal" textLength="33.2" lengthAdjust="spacingAndGlyphs">p &lt;0.0001</text>
<text x="244.4" y="159.8" font-size="10.4" fill="#262626" textLength="17.6" lengthAdjust="spacingAndGlyphs">IL10</text>
<text x="262.2" y="156.6" font-size="7.8" fill="#262626" textLength="11.4" lengthAdjust="spacingAndGlyphs">&#8722;/&#8722;</text>
<circle cx="213.70" cy="191.00" r="2.1" fill="#c20f2a"/>
<circle cx="252.20" cy="188.50" r="2.1" fill="#c20f2a"/>
<circle cx="265.80" cy="196.40" r="2.1" fill="#c20f2a"/>
<circle cx="233.20" cy="195.60" r="2.1" fill="#c20f2a"/>
<circle cx="234.40" cy="198.30" r="2.1" fill="#c20f2a"/>
<circle cx="233.70" cy="201.20" r="2.1" fill="#c20f2a"/>
<circle cx="251.90" cy="199.00" r="2.1" fill="#c20f2a"/>
<circle cx="218.00" cy="201.50" r="2.1" fill="#c20f2a"/>
<circle cx="204.90" cy="205.10" r="2.1" fill="#c20f2a"/>
<circle cx="231.50" cy="204.20" r="2.1" fill="#c20f2a"/>
<circle cx="223.90" cy="205.90" r="2.1" fill="#c20f2a"/>
<circle cx="232.70" cy="207.10" r="2.1" fill="#c20f2a"/>
<circle cx="244.60" cy="205.80" r="2.1" fill="#c20f2a"/>
<circle cx="213.70" cy="207.10" r="2.1" fill="#c20f2a"/>
<circle cx="253.90" cy="208.80" r="2.1" fill="#c20f2a"/>
<circle cx="206.90" cy="211.90" r="2.1" fill="#c20f2a"/>
<circle cx="210.30" cy="211.70" r="2.1" fill="#c20f2a"/>
<circle cx="225.60" cy="211.90" r="2.1" fill="#c20f2a"/>
<circle cx="213.70" cy="214.70" r="2.1" fill="#c20f2a"/>
<circle cx="221.90" cy="216.40" r="2.1" fill="#c20f2a"/>
<circle cx="224.70" cy="216.90" r="2.1" fill="#c20f2a"/>
<circle cx="206.10" cy="218.10" r="2.1" fill="#c20f2a"/>
<circle cx="203.20" cy="221.00" r="2.1" fill="#c20f2a"/>
<circle cx="229.00" cy="219.80" r="2.1" fill="#c20f2a"/>
<circle cx="226.40" cy="220.70" r="2.1" fill="#c20f2a"/>
<circle cx="223.10" cy="222.00" r="2.1" fill="#c20f2a"/>
<circle cx="239.70" cy="222.90" r="2.1" fill="#c20f2a"/>
<circle cx="201.50" cy="226.10" r="2.1" fill="#c20f2a"/>
<circle cx="205.30" cy="225.80" r="2.1" fill="#c20f2a"/>
<circle cx="212.50" cy="225.30" r="2.1" fill="#c20f2a"/>
<circle cx="225.60" cy="226.10" r="2.1" fill="#c20f2a"/>
<circle cx="228.10" cy="225.40" r="2.1" fill="#c20f2a"/>
<circle cx="230.70" cy="227.50" r="2.1" fill="#c20f2a"/>
<circle cx="239.20" cy="226.60" r="2.1" fill="#c20f2a"/>
<circle cx="210.80" cy="233.40" r="2.1" fill="#c20f2a"/>
<circle cx="225.60" cy="234.20" r="2.1" fill="#c20f2a"/>
<circle cx="239.20" cy="234.70" r="2.1" fill="#c20f2a"/>
<circle cx="248.50" cy="235.40" r="2.1" fill="#c20f2a"/>
<circle cx="227.60" cy="242.40" r="2.1" fill="#c20f2a"/>
<line x1="196.60" y1="245.30" x2="292.80" y2="167.00" stroke="#1d4474" stroke-width="1.5" stroke-dasharray="2.2 2.0"/>
<line x1="195.60" y1="160.00" x2="195.60" y2="246.60" stroke="#111" stroke-width="1.1"/>
<line x1="192.40" y1="246.10" x2="195.60" y2="246.10" stroke="#111" stroke-width="1.0"/>
<text x="189.00" y="248.90" font-size="8.5" text-anchor="end" fill="#262626" font-weight="normal" textLength="4.25" lengthAdjust="spacingAndGlyphs">0</text>
<line x1="192.40" y1="218.30" x2="195.60" y2="218.30" stroke="#111" stroke-width="1.0"/>
<text x="189.00" y="221.10" font-size="8.5" text-anchor="end" fill="#262626" font-weight="normal" textLength="12.76" lengthAdjust="spacingAndGlyphs">500</text>
<line x1="192.40" y1="190.40" x2="195.60" y2="190.40" stroke="#111" stroke-width="1.0"/>
<text x="189.00" y="193.20" font-size="8.5" text-anchor="end" fill="#262626" font-weight="normal" textLength="17.02" lengthAdjust="spacingAndGlyphs">1000</text>
<line x1="192.40" y1="163.20" x2="195.60" y2="163.20" stroke="#111" stroke-width="1.0"/>
<text x="189.00" y="166.00" font-size="8.5" text-anchor="end" fill="#262626" font-weight="normal" textLength="17.02" lengthAdjust="spacingAndGlyphs">1500</text>
<line x1="192.40" y1="246.10" x2="320.50" y2="246.10" stroke="#111" stroke-width="1.1"/>
<line x1="195.60" y1="246.10" x2="195.60" y2="249.30" stroke="#111" stroke-width="1.0"/>
<text x="195.60" y="259.30" font-size="8.5" text-anchor="middle" fill="#262626" font-weight="normal" textLength="4.25" lengthAdjust="spacingAndGlyphs">0</text>
<line x1="233.50" y1="246.10" x2="233.50" y2="249.30" stroke="#111" stroke-width="1.0"/>
<text x="233.50" y="259.30" font-size="8.5" text-anchor="middle" fill="#262626" font-weight="normal" textLength="12.76" lengthAdjust="spacingAndGlyphs">500</text>
<line x1="274.60" y1="246.10" x2="274.60" y2="249.30" stroke="#111" stroke-width="1.0"/>
<text x="274.60" y="259.30" font-size="8.5" text-anchor="middle" fill="#262626" font-weight="normal" textLength="17.02" lengthAdjust="spacingAndGlyphs">1000</text>
<line x1="316.50" y1="246.10" x2="316.50" y2="249.30" stroke="#111" stroke-width="1.0"/>
<text x="316.50" y="259.30" font-size="8.5" text-anchor="middle" fill="#262626" font-weight="normal" textLength="17.02" lengthAdjust="spacingAndGlyphs">1500</text>
<text x="318.30" y="229.60" font-size="7.6" text-anchor="end" fill="#262626" font-weight="normal" textLength="35.0" lengthAdjust="spacingAndGlyphs">r = 0.1835</text>
<text x="318.30" y="241.90" font-size="7.6" text-anchor="end" fill="#262626" font-weight="normal" textLength="36.4" lengthAdjust="spacingAndGlyphs">p = 0.2571</text>
<rect x="374.00" y="207.20" width="15.40" height="38.90" fill="#e8867d"/>
<line x1="381.80" y1="199.10" x2="381.80" y2="214.50" stroke="#7c1626" stroke-width="1.3"/>
<line x1="378.00" y1="199.10" x2="385.60" y2="199.10" stroke="#7c1626" stroke-width="1.4"/>
<line x1="378.00" y1="214.50" x2="385.60" y2="214.50" stroke="#7c1626" stroke-width="1.4"/>
<circle cx="381.80" cy="201.30" r="1.35" fill="#c20f2a"/>
<circle cx="381.80" cy="212.10" r="1.35" fill="#c20f2a"/>
<rect x="396.10" y="180.10" width="15.00" height="66.00" fill="#8b94b8"/>
<line x1="403.70" y1="177.20" x2="403.70" y2="182.40" stroke="#1a2b45" stroke-width="1.3"/>
<line x1="399.90" y1="177.20" x2="407.50" y2="177.20" stroke="#1a2b45" stroke-width="1.4"/>
<line x1="399.90" y1="182.40" x2="407.50" y2="182.40" stroke="#1a2b45" stroke-width="1.4"/>
<circle cx="403.70" cy="177.90" r="1.35" fill="#1c3f6e"/>
<circle cx="403.70" cy="181.00" r="1.35" fill="#1c3f6e"/>
<line x1="367.10" y1="155.80" x2="367.10" y2="246.60" stroke="#111" stroke-width="1.1"/>
<line x1="363.90" y1="246.10" x2="367.10" y2="246.10" stroke="#111" stroke-width="1.0"/>
<text x="360.50" y="248.90" font-size="8.5" text-anchor="end" fill="#262626" font-weight="normal" textLength="10.63" lengthAdjust="spacingAndGlyphs">0.0</text>
<line x1="363.90" y1="217.20" x2="367.10" y2="217.20" stroke="#111" stroke-width="1.0"/>
<text x="360.50" y="220.00" font-size="8.5" text-anchor="end" fill="#262626" font-weight="normal" textLength="10.63" lengthAdjust="spacingAndGlyphs">0.5</text>
<line x1="363.90" y1="188.40" x2="367.10" y2="188.40" stroke="#111" stroke-width="1.0"/>
<text x="360.50" y="191.20" font-size="8.5" text-anchor="end" fill="#262626" font-weight="normal" textLength="10.63" lengthAdjust="spacingAndGlyphs">1.0</text>
<line x1="363.90" y1="159.40" x2="367.10" y2="159.40" stroke="#111" stroke-width="1.0"/>
<text x="360.50" y="162.20" font-size="8.5" text-anchor="end" fill="#262626" font-weight="normal" textLength="10.63" lengthAdjust="spacingAndGlyphs">1.5</text>
<line x1="363.90" y1="246.10" x2="419.50" y2="246.10" stroke="#111" stroke-width="1.1"/>
<line x1="381.80" y1="246.10" x2="381.80" y2="249.30" stroke="#111" stroke-width="1.0"/>
<text x="381.80" y="258.00" font-size="8.5" text-anchor="middle" fill="#262626" font-weight="normal" textLength="11.89" lengthAdjust="spacingAndGlyphs">WT</text>
<line x1="403.70" y1="246.10" x2="403.70" y2="249.30" stroke="#111" stroke-width="1.0"/>
<text transform="translate(343.70,239.50) rotate(-90)" font-size="8.8" fill="#262626" textLength="75.5" lengthAdjust="spacingAndGlyphs">CD11b vs. CD71 slope</text>
<text x="392.4" y="258.0" font-size="8.3" font-style="italic" fill="#262626" textLength="15.5" lengthAdjust="spacingAndGlyphs">IL10</text>
<text x="407.4" y="255.0" font-size="5.6" font-style="italic" fill="#262626">&#8722;/&#8722;</text>
<line x1="469.50" y1="232.80" x2="487.50" y2="232.80" stroke="#5d7c86" stroke-width="0.9"/>
<circle cx="477.00" cy="233.40" r="1.25" fill="#c8102e"/>
<circle cx="478.60" cy="233.54" r="1.25" fill="#c8102e"/>
<circle cx="475.40" cy="233.54" r="1.25" fill="#c8102e"/>
<circle cx="480.20" cy="233.62" r="1.25" fill="#c8102e"/>
<circle cx="473.80" cy="233.75" r="1.25" fill="#c8102e"/>
<circle cx="481.80" cy="233.90" r="1.25" fill="#c8102e"/>
<circle cx="472.20" cy="233.92" r="1.25" fill="#c8102e"/>
<circle cx="483.40" cy="234.61" r="1.25" fill="#c8102e"/>
<circle cx="477.80" cy="236.29" r="1.25" fill="#c8102e"/>
<circle cx="476.20" cy="236.31" r="1.25" fill="#c8102e"/>
<circle cx="479.40" cy="236.45" r="1.25" fill="#c8102e"/>
<circle cx="474.60" cy="236.90" r="1.25" fill="#c8102e"/>
<circle cx="481.00" cy="237.04" r="1.25" fill="#c8102e"/>
<circle cx="473.00" cy="237.04" r="1.25" fill="#c8102e"/>
<circle cx="482.60" cy="237.72" r="1.25" fill="#c8102e"/>
<circle cx="477.80" cy="228.94" r="1.25" fill="#c8102e"/>
<circle cx="476.44" cy="229.00" r="1.25" fill="#c8102e"/>
<circle cx="479.16" cy="229.13" r="1.25" fill="#c8102e"/>
<circle cx="475.07" cy="229.31" r="1.25" fill="#c8102e"/>
<circle cx="480.53" cy="229.80" r="1.25" fill="#c8102e"/>
<circle cx="473.71" cy="229.93" r="1.25" fill="#c8102e"/>
<circle cx="481.89" cy="229.99" r="1.25" fill="#c8102e"/>
<circle cx="472.35" cy="230.01" r="1.25" fill="#c8102e"/>
<circle cx="483.25" cy="230.05" r="1.25" fill="#c8102e"/>
<circle cx="470.98" cy="230.09" r="1.25" fill="#c8102e"/>
<circle cx="484.62" cy="230.11" r="1.25" fill="#c8102e"/>
<circle cx="477.80" cy="238.24" r="1.25" fill="#c8102e"/>
<circle cx="476.20" cy="238.32" r="1.25" fill="#c8102e"/>
<circle cx="479.40" cy="238.54" r="1.25" fill="#c8102e"/>
<circle cx="474.60" cy="238.61" r="1.25" fill="#c8102e"/>
<circle cx="481.00" cy="238.64" r="1.25" fill="#c8102e"/>
<circle cx="473.00" cy="238.70" r="1.25" fill="#c8102e"/>
<circle cx="482.60" cy="239.10" r="1.25" fill="#c8102e"/>
<circle cx="477.00" cy="230.47" r="1.25" fill="#c8102e"/>
<circle cx="478.60" cy="230.63" r="1.25" fill="#c8102e"/>
<circle cx="475.40" cy="230.77" r="1.25" fill="#c8102e"/>
<circle cx="480.20" cy="231.01" r="1.25" fill="#c8102e"/>
<circle cx="473.80" cy="231.26" r="1.25" fill="#c8102e"/>
<circle cx="481.80" cy="231.45" r="1.25" fill="#c8102e"/>
<circle cx="472.20" cy="231.68" r="1.25" fill="#c8102e"/>
<circle cx="483.40" cy="231.71" r="1.25" fill="#c8102e"/>
<circle cx="477.80" cy="231.96" r="1.25" fill="#c8102e"/>
<circle cx="476.20" cy="232.03" r="1.25" fill="#c8102e"/>
<circle cx="479.40" cy="232.07" r="1.25" fill="#c8102e"/>
<circle cx="474.60" cy="232.15" r="1.25" fill="#c8102e"/>
<circle cx="481.00" cy="232.42" r="1.25" fill="#c8102e"/>
<circle cx="473.00" cy="232.74" r="1.25" fill="#c8102e"/>
<circle cx="482.60" cy="232.83" r="1.25" fill="#c8102e"/>
<circle cx="477.00" cy="239.39" r="1.25" fill="#c8102e"/>
<circle cx="478.60" cy="239.46" r="1.25" fill="#c8102e"/>
<circle cx="477.80" cy="224.51" r="1.25" fill="#c8102e"/>
<circle cx="476.20" cy="224.52" r="1.25" fill="#c8102e"/>
<circle cx="479.40" cy="224.95" r="1.25" fill="#c8102e"/>
<circle cx="474.60" cy="225.39" r="1.25" fill="#c8102e"/>
<circle cx="481.00" cy="225.69" r="1.25" fill="#c8102e"/>
<circle cx="477.80" cy="234.96" r="1.25" fill="#c8102e"/>
<circle cx="476.20" cy="235.26" r="1.25" fill="#c8102e"/>
<circle cx="479.40" cy="235.72" r="1.25" fill="#c8102e"/>
<circle cx="477.00" cy="222.20" r="1.25" fill="#c8102e"/>
<circle cx="478.60" cy="222.32" r="1.25" fill="#c8102e"/>
<circle cx="477.00" cy="220.56" r="1.25" fill="#c8102e"/>
<circle cx="478.60" cy="220.81" r="1.25" fill="#c8102e"/>
<circle cx="477.00" cy="225.93" r="1.25" fill="#c8102e"/>
<circle cx="478.60" cy="226.39" r="1.25" fill="#c8102e"/>
<circle cx="475.40" cy="226.98" r="1.25" fill="#c8102e"/>
<circle cx="480.20" cy="227.12" r="1.25" fill="#c8102e"/>
<circle cx="477.80" cy="227.63" r="1.25" fill="#c8102e"/>
<circle cx="476.20" cy="228.12" r="1.25" fill="#c8102e"/>
<circle cx="479.40" cy="228.16" r="1.25" fill="#c8102e"/>
<circle cx="474.60" cy="228.22" r="1.25" fill="#c8102e"/>
<circle cx="481.00" cy="228.47" r="1.25" fill="#c8102e"/>
<circle cx="473.00" cy="228.67" r="1.25" fill="#c8102e"/>
<circle cx="482.60" cy="228.73" r="1.25" fill="#c8102e"/>
<circle cx="477.80" cy="219.49" r="1.25" fill="#c8102e"/>
<circle cx="477.80" cy="212.66" r="1.25" fill="#c8102e"/>
<circle cx="477.80" cy="211.60" r="1.25" fill="#c8102e"/>
<circle cx="477.80" cy="244.69" r="1.25" fill="#c8102e"/>
<circle cx="477.80" cy="243.28" r="1.25" fill="#c8102e"/>
<line x1="492.70" y1="221.50" x2="513.50" y2="221.50" stroke="#5d7c86" stroke-width="0.9"/>
<circle cx="502.90" cy="165.40" r="1.2" fill="#1b3f70"/>
<circle cx="502.90" cy="180.60" r="1.2" fill="#1b3f70"/>
<circle cx="498.90" cy="188.10" r="1.2" fill="#1b3f70"/>
<circle cx="507.00" cy="188.10" r="1.2" fill="#1b3f70"/>
<circle cx="504.30" cy="190.00" r="1.2" fill="#1b3f70"/>
<circle cx="502.90" cy="194.20" r="1.2" fill="#1b3f70"/>
<circle cx="504.60" cy="196.90" r="1.2" fill="#1b3f70"/>
<circle cx="501.70" cy="199.40" r="1.2" fill="#1b3f70"/>
<circle cx="504.30" cy="201.70" r="1.2" fill="#1b3f70"/>
<circle cx="503.10" cy="206.60" r="1.2" fill="#1b3f70"/>
<circle cx="503.10" cy="209.20" r="1.2" fill="#1b3f70"/>
<circle cx="498.90" cy="214.60" r="1.2" fill="#1b3f70"/>
<circle cx="504.40" cy="214.20" r="1.2" fill="#1b3f70"/>
<circle cx="501.75" cy="217.30" r="1.2" fill="#1b3f70"/>
<circle cx="507.00" cy="215.90" r="1.2" fill="#1b3f70"/>
<circle cx="509.90" cy="218.30" r="1.2" fill="#1b3f70"/>
<circle cx="498.90" cy="219.40" r="1.2" fill="#1b3f70"/>
<circle cx="504.70" cy="219.80" r="1.2" fill="#1b3f70"/>
<circle cx="495.80" cy="222.70" r="1.2" fill="#1b3f70"/>
<circle cx="497.40" cy="221.70" r="1.2" fill="#1b3f70"/>
<circle cx="499.25" cy="222.70" r="1.2" fill="#1b3f70"/>
<circle cx="501.50" cy="221.10" r="1.2" fill="#1b3f70"/>
<circle cx="506.75" cy="221.40" r="1.2" fill="#1b3f70"/>
<circle cx="510.10" cy="221.70" r="1.2" fill="#1b3f70"/>
<circle cx="504.50" cy="223.20" r="1.2" fill="#1b3f70"/>
<circle cx="509.90" cy="224.80" r="1.2" fill="#1b3f70"/>
<circle cx="501.50" cy="225.80" r="1.2" fill="#1b3f70"/>
<circle cx="504.70" cy="227.10" r="1.2" fill="#1b3f70"/>
<circle cx="507.30" cy="226.40" r="1.2" fill="#1b3f70"/>
<circle cx="495.80" cy="228.75" r="1.2" fill="#1b3f70"/>
<circle cx="498.90" cy="227.70" r="1.2" fill="#1b3f70"/>
<circle cx="510.10" cy="228.40" r="1.2" fill="#1b3f70"/>
<circle cx="502.10" cy="230.00" r="1.2" fill="#1b3f70"/>
<circle cx="504.70" cy="231.00" r="1.2" fill="#1b3f70"/>
<circle cx="507.30" cy="230.80" r="1.2" fill="#1b3f70"/>
<circle cx="498.90" cy="233.30" r="1.2" fill="#1b3f70"/>
<circle cx="502.10" cy="232.60" r="1.2" fill="#1b3f70"/>
<circle cx="504.50" cy="234.70" r="1.2" fill="#1b3f70"/>
<circle cx="501.50" cy="236.80" r="1.2" fill="#1b3f70"/>
<circle cx="501.50" cy="239.60" r="1.2" fill="#1b3f70"/>
<circle cx="504.70" cy="240.90" r="1.2" fill="#1b3f70"/>
<circle cx="502.10" cy="243.75" r="1.2" fill="#1b3f70"/>
<line x1="462.00" y1="154.50" x2="462.00" y2="246.60" stroke="#111" stroke-width="1.1"/>
<line x1="458.80" y1="246.10" x2="462.00" y2="246.10" stroke="#111" stroke-width="1.0"/>
<text x="455.40" y="248.90" font-size="8.5" text-anchor="end" fill="#262626" font-weight="normal" textLength="4.25" lengthAdjust="spacingAndGlyphs">0</text>
<line x1="458.80" y1="228.50" x2="462.00" y2="228.50" stroke="#111" stroke-width="1.0"/>
<text x="455.40" y="231.30" font-size="8.5" text-anchor="end" fill="#262626" font-weight="normal" textLength="4.25" lengthAdjust="spacingAndGlyphs">1</text>
<line x1="458.80" y1="210.90" x2="462.00" y2="210.90" stroke="#111" stroke-width="1.0"/>
<text x="455.40" y="213.70" font-size="8.5" text-anchor="end" fill="#262626" font-weight="normal" textLength="4.25" lengthAdjust="spacingAndGlyphs">2</text>
<line x1="458.80" y1="193.60" x2="462.00" y2="193.60" stroke="#111" stroke-width="1.0"/>
<text x="455.40" y="196.40" font-size="8.5" text-anchor="end" fill="#262626" font-weight="normal" textLength="4.25" lengthAdjust="spacingAndGlyphs">3</text>
<line x1="458.80" y1="176.20" x2="462.00" y2="176.20" stroke="#111" stroke-width="1.0"/>
<text x="455.40" y="179.00" font-size="8.5" text-anchor="end" fill="#262626" font-weight="normal" textLength="4.25" lengthAdjust="spacingAndGlyphs">4</text>
<line x1="458.80" y1="158.40" x2="462.00" y2="158.40" stroke="#111" stroke-width="1.0"/>
<text x="455.40" y="161.20" font-size="8.5" text-anchor="end" fill="#262626" font-weight="normal" textLength="4.25" lengthAdjust="spacingAndGlyphs">5</text>
<line x1="458.80" y1="246.10" x2="520.50" y2="246.10" stroke="#111" stroke-width="1.1"/>
<line x1="477.80" y1="246.10" x2="477.80" y2="249.30" stroke="#111" stroke-width="1.0"/>
<text x="477.80" y="258.00" font-size="8.5" text-anchor="middle" fill="#262626" font-weight="normal" textLength="11.89" lengthAdjust="spacingAndGlyphs">WT</text>
<line x1="503.40" y1="246.10" x2="503.40" y2="249.30" stroke="#111" stroke-width="1.0"/>
<text transform="translate(444.80,242.50) rotate(-90)" font-size="8.8" fill="#262626" textLength="80.5" lengthAdjust="spacingAndGlyphs">CD11b: CD71 area ratio</text>
<line x1="478.40" y1="158.60" x2="502.70" y2="158.60" stroke="#333" stroke-width="1.15"/>
<polygon points="483.80,151.60 484.39,152.79 485.70,152.98 484.75,153.91 484.98,155.22 483.80,154.60 482.62,155.22 482.85,153.91 481.90,152.98 483.21,152.79" fill="#222"/>
<polygon points="488.20,151.60 488.79,152.79 490.10,152.98 489.15,153.91 489.38,155.22 488.20,154.60 487.02,155.22 487.25,153.91 486.30,152.98 487.61,152.79" fill="#222"/>
<polygon points="492.70,151.60 493.29,152.79 494.60,152.98 493.65,153.91 493.88,155.22 492.70,154.60 491.52,155.22 491.75,153.91 490.80,152.98 492.11,152.79" fill="#222"/>
<polygon points="497.10,151.60 497.69,152.79 499.00,152.98 498.05,153.91 498.28,155.22 497.10,154.60 495.92,155.22 496.15,153.91 495.20,152.98 496.51,152.79" fill="#222"/>
<text x="494.0" y="258.2" font-size="8.3" font-style="italic" fill="#262626" textLength="15.5" lengthAdjust="spacingAndGlyphs">IL10</text>
<text x="508.8" y="255.2" font-size="5.6" font-style="italic" fill="#262626">&#8722;/&#8722;</text>
<text x="0.20" y="283.59" font-size="12.0" text-anchor="start" fill="#000" font-weight="bold">G</text>
<text x="336.30" y="283.79" font-size="12.0" text-anchor="start" fill="#000" font-weight="bold">H</text>
<text x="427.00" y="283.79" font-size="12.0" text-anchor="start" fill="#000" font-weight="bold">I</text>
<text x="99.80" y="293.80" font-size="10.4" text-anchor="middle" fill="#262626" font-weight="normal" textLength="32.5" lengthAdjust="spacingAndGlyphs">Vehicle</text>
<circle cx="53.70" cy="353.30" r="2.1" fill="#c20f2a"/>
<circle cx="54.20" cy="364.80" r="2.1" fill="#c20f2a"/>
<circle cx="69.90" cy="348.80" r="2.1" fill="#c20f2a"/>
<circle cx="81.70" cy="344.40" r="2.1" fill="#c20f2a"/>
<circle cx="87.20" cy="345.20" r="2.1" fill="#c20f2a"/>
<circle cx="98.20" cy="343.30" r="2.1" fill="#c20f2a"/>
<circle cx="103.70" cy="346.00" r="2.1" fill="#c20f2a"/>
<circle cx="107.60" cy="349.10" r="2.1" fill="#c20f2a"/>
<circle cx="88.80" cy="349.90" r="2.1" fill="#c20f2a"/>
<circle cx="92.70" cy="349.90" r="2.1" fill="#c20f2a"/>
<circle cx="90.30" cy="353.00" r="2.1" fill="#c20f2a"/>
<circle cx="94.30" cy="353.80" r="2.1" fill="#c20f2a"/>
<circle cx="99.80" cy="356.20" r="2.1" fill="#c20f2a"/>
<circle cx="103.70" cy="353.80" r="2.1" fill="#c20f2a"/>
<circle cx="61.20" cy="357.80" r="2.1" fill="#c20f2a"/>
<circle cx="70.70" cy="357.80" r="2.1" fill="#c20f2a"/>
<circle cx="73.80" cy="358.50" r="2.1" fill="#c20f2a"/>
<circle cx="87.20" cy="357.80" r="2.1" fill="#c20f2a"/>
<circle cx="93.50" cy="358.50" r="2.1" fill="#c20f2a"/>
<circle cx="59.70" cy="360.10" r="2.1" fill="#c20f2a"/>
<circle cx="63.60" cy="361.20" r="2.1" fill="#c20f2a"/>
<circle cx="68.30" cy="360.90" r="2.1" fill="#c20f2a"/>
<circle cx="73.00" cy="361.70" r="2.1" fill="#c20f2a"/>
<circle cx="80.90" cy="360.10" r="2.1" fill="#c20f2a"/>
<circle cx="85.60" cy="361.70" r="2.1" fill="#c20f2a"/>
<circle cx="90.30" cy="362.20" r="2.1" fill="#c20f2a"/>
<circle cx="93.50" cy="360.90" r="2.1" fill="#c20f2a"/>
<circle cx="64.40" cy="364.00" r="2.1" fill="#c20f2a"/>
<circle cx="67.50" cy="364.80" r="2.1" fill="#c20f2a"/>
<circle cx="71.50" cy="364.80" r="2.1" fill="#c20f2a"/>
<circle cx="75.40" cy="364.00" r="2.1" fill="#c20f2a"/>
<circle cx="79.30" cy="364.80" r="2.1" fill="#c20f2a"/>
<circle cx="83.30" cy="364.00" r="2.1" fill="#c20f2a"/>
<circle cx="88.00" cy="364.80" r="2.1" fill="#c20f2a"/>
<circle cx="94.30" cy="366.40" r="2.1" fill="#c20f2a"/>
<circle cx="94.30" cy="368.80" r="2.1" fill="#c20f2a"/>
<circle cx="65.20" cy="367.20" r="2.1" fill="#c20f2a"/>
<circle cx="69.10" cy="368.00" r="2.1" fill="#c20f2a"/>
<circle cx="73.80" cy="367.20" r="2.1" fill="#c20f2a"/>
<circle cx="77.80" cy="368.80" r="2.1" fill="#c20f2a"/>
<circle cx="81.70" cy="367.20" r="2.1" fill="#c20f2a"/>
<circle cx="85.60" cy="367.20" r="2.1" fill="#c20f2a"/>
<circle cx="62.00" cy="370.30" r="2.1" fill="#c20f2a"/>
<circle cx="66.70" cy="370.30" r="2.1" fill="#c20f2a"/>
<circle cx="71.50" cy="371.10" r="2.1" fill="#c20f2a"/>
<circle cx="77.00" cy="371.10" r="2.1" fill="#c20f2a"/>
<circle cx="58.90" cy="374.30" r="2.1" fill="#c20f2a"/>
<circle cx="62.00" cy="374.30" r="2.1" fill="#c20f2a"/>
<circle cx="65.20" cy="374.30" r="2.1" fill="#c20f2a"/>
<circle cx="71.50" cy="374.30" r="2.1" fill="#c20f2a"/>
<circle cx="144.10" cy="320.10" r="2.1" fill="#c20f2a"/>
<circle cx="142.50" cy="330.10" r="2.1" fill="#c20f2a"/>
<circle cx="122.90" cy="331.60" r="2.1" fill="#c20f2a"/>
<circle cx="127.70" cy="338.20" r="2.1" fill="#c20f2a"/>
<circle cx="117.90" cy="345.40" r="2.1" fill="#c20f2a"/>
<circle cx="98.30" cy="343.60" r="2.1" fill="#c20f2a"/>
<circle cx="103.70" cy="346.20" r="2.1" fill="#c20f2a"/>
<circle cx="104.20" cy="349.10" r="2.1" fill="#c20f2a"/>
<circle cx="109.20" cy="347.50" r="2.1" fill="#c20f2a"/>
<circle cx="107.00" cy="350.60" r="2.1" fill="#c20f2a"/>
<circle cx="112.40" cy="355.60" r="2.1" fill="#c20f2a"/>
<circle cx="115.10" cy="357.10" r="2.1" fill="#c20f2a"/>
<circle cx="116.80" cy="358.90" r="2.1" fill="#c20f2a"/>
<circle cx="103.70" cy="354.50" r="2.1" fill="#c20f2a"/>
<circle cx="99.80" cy="356.70" r="2.1" fill="#c20f2a"/>
<circle cx="67.00" cy="362.50" r="2.1" fill="#c20f2a"/>
<circle cx="70.00" cy="366.50" r="2.1" fill="#c20f2a"/>
<circle cx="75.00" cy="362.00" r="2.1" fill="#c20f2a"/>
<circle cx="76.50" cy="366.00" r="2.1" fill="#c20f2a"/>
<circle cx="83.00" cy="361.00" r="2.1" fill="#c20f2a"/>
<circle cx="84.50" cy="366.50" r="2.1" fill="#c20f2a"/>
<circle cx="79.00" cy="369.50" r="2.1" fill="#c20f2a"/>
<circle cx="68.00" cy="372.00" r="2.1" fill="#c20f2a"/>
<circle cx="73.50" cy="369.50" r="2.1" fill="#c20f2a"/>
<circle cx="61.00" cy="367.00" r="2.1" fill="#c20f2a"/>
<line x1="37.60" y1="383.40" x2="156.10" y2="324.00" stroke="#1d4474" stroke-width="1.5" stroke-dasharray="2.2 2.0"/>
<line x1="36.60" y1="298.50" x2="36.60" y2="384.70" stroke="#111" stroke-width="1.1"/>
<line x1="33.40" y1="384.20" x2="36.60" y2="384.20" stroke="#111" stroke-width="1.0"/>
<text x="30.00" y="387.00" font-size="8.5" text-anchor="end" fill="#262626" font-weight="normal" textLength="4.25" lengthAdjust="spacingAndGlyphs">0</text>
<line x1="33.40" y1="357.00" x2="36.60" y2="357.00" stroke="#111" stroke-width="1.0"/>
<text x="30.00" y="359.80" font-size="8.5" text-anchor="end" fill="#262626" font-weight="normal" textLength="12.76" lengthAdjust="spacingAndGlyphs">500</text>
<line x1="33.40" y1="329.90" x2="36.60" y2="329.90" stroke="#111" stroke-width="1.0"/>
<text x="30.00" y="332.70" font-size="8.5" text-anchor="end" fill="#262626" font-weight="normal" textLength="17.02" lengthAdjust="spacingAndGlyphs">1000</text>
<line x1="33.40" y1="302.40" x2="36.60" y2="302.40" stroke="#111" stroke-width="1.0"/>
<text x="30.00" y="305.20" font-size="8.5" text-anchor="end" fill="#262626" font-weight="normal" textLength="17.02" lengthAdjust="spacingAndGlyphs">1500</text>
<line x1="33.40" y1="384.20" x2="162.80" y2="384.20" stroke="#111" stroke-width="1.1"/>
<line x1="36.60" y1="384.20" x2="36.60" y2="387.40" stroke="#111" stroke-width="1.0"/>
<text x="36.60" y="397.20" font-size="8.5" text-anchor="middle" fill="#262626" font-weight="normal" textLength="4.25" lengthAdjust="spacingAndGlyphs">0</text>
<line x1="77.30" y1="384.20" x2="77.30" y2="387.40" stroke="#111" stroke-width="1.0"/>
<text x="77.30" y="397.20" font-size="8.5" text-anchor="middle" fill="#262626" font-weight="normal" textLength="12.76" lengthAdjust="spacingAndGlyphs">500</text>
<line x1="117.70" y1="384.20" x2="117.70" y2="387.40" stroke="#111" stroke-width="1.0"/>
<text x="117.70" y="397.20" font-size="8.5" text-anchor="middle" fill="#262626" font-weight="normal" textLength="17.02" lengthAdjust="spacingAndGlyphs">1000</text>
<line x1="158.50" y1="384.20" x2="158.50" y2="387.40" stroke="#111" stroke-width="1.0"/>
<text x="158.50" y="397.20" font-size="8.5" text-anchor="middle" fill="#262626" font-weight="normal" textLength="17.02" lengthAdjust="spacingAndGlyphs">1500</text>
<text x="158.30" y="367.40" font-size="7.6" text-anchor="end" fill="#262626" font-weight="normal" textLength="35.0" lengthAdjust="spacingAndGlyphs">r = 0.6500</text>
<text x="158.30" y="379.80" font-size="7.6" text-anchor="end" fill="#262626" font-weight="normal" textLength="33.2" lengthAdjust="spacingAndGlyphs">p &lt;0.0001</text>
<text x="258.50" y="293.80" font-size="10.4" text-anchor="middle" fill="#262626" font-weight="normal" textLength="115.5" lengthAdjust="spacingAndGlyphs">Collagen-induced arthritis</text>
<circle cx="215.00" cy="331.30" r="2.1" fill="#c20f2a"/>
<circle cx="235.90" cy="331.80" r="2.1" fill="#c20f2a"/>
<circle cx="219.90" cy="342.00" r="2.1" fill="#c20f2a"/>
<circle cx="221.00" cy="344.40" r="2.1" fill="#c20f2a"/>
<circle cx="223.30" cy="347.10" r="2.1" fill="#c20f2a"/>
<circle cx="213.60" cy="347.10" r="2.1" fill="#c20f2a"/>
<circle cx="242.20" cy="340.20" r="2.1" fill="#c20f2a"/>
<circle cx="243.50" cy="342.80" r="2.1" fill="#c20f2a"/>
<circle cx="247.00" cy="346.80" r="2.1" fill="#c20f2a"/>
<circle cx="254.10" cy="345.20" r="2.1" fill="#c20f2a"/>
<circle cx="232.00" cy="350.70" r="2.1" fill="#c20f2a"/>
<circle cx="236.70" cy="351.50" r="2.1" fill="#c20f2a"/>
<circle cx="240.70" cy="349.90" r="2.1" fill="#c20f2a"/>
<circle cx="243.80" cy="353.10" r="2.1" fill="#c20f2a"/>
<circle cx="250.90" cy="353.10" r="2.1" fill="#c20f2a"/>
<circle cx="210.00" cy="356.50" r="2.1" fill="#c20f2a"/>
<circle cx="222.60" cy="354.60" r="2.1" fill="#c20f2a"/>
<circle cx="228.10" cy="355.40" r="2.1" fill="#c20f2a"/>
<circle cx="233.60" cy="356.20" r="2.1" fill="#c20f2a"/>
<circle cx="238.30" cy="357.00" r="2.1" fill="#c20f2a"/>
<circle cx="202.90" cy="360.60" r="2.1" fill="#c20f2a"/>
<circle cx="203.20" cy="364.10" r="2.1" fill="#c20f2a"/>
<circle cx="216.30" cy="360.90" r="2.1" fill="#c20f2a"/>
<circle cx="220.20" cy="360.20" r="2.1" fill="#c20f2a"/>
<circle cx="226.50" cy="359.40" r="2.1" fill="#c20f2a"/>
<circle cx="231.20" cy="360.20" r="2.1" fill="#c20f2a"/>
<circle cx="236.70" cy="359.40" r="2.1" fill="#c20f2a"/>
<circle cx="239.90" cy="360.90" r="2.1" fill="#c20f2a"/>
<circle cx="247.80" cy="362.20" r="2.1" fill="#c20f2a"/>
<circle cx="251.70" cy="363.80" r="2.1" fill="#c20f2a"/>
<circle cx="215.50" cy="364.90" r="2.1" fill="#c20f2a"/>
<circle cx="219.40" cy="365.70" r="2.1" fill="#c20f2a"/>
<circle cx="224.10" cy="364.90" r="2.1" fill="#c20f2a"/>
<circle cx="228.90" cy="364.90" r="2.1" fill="#c20f2a"/>
<circle cx="233.60" cy="365.70" r="2.1" fill="#c20f2a"/>
<circle cx="239.10" cy="365.70" r="2.1" fill="#c20f2a"/>
<circle cx="245.40" cy="365.70" r="2.1" fill="#c20f2a"/>
<circle cx="214.70" cy="368.00" r="2.1" fill="#c20f2a"/>
<circle cx="218.60" cy="368.80" r="2.1" fill="#c20f2a"/>
<circle cx="223.30" cy="368.00" r="2.1" fill="#c20f2a"/>
<circle cx="227.30" cy="368.80" r="2.1" fill="#c20f2a"/>
<circle cx="232.00" cy="368.00" r="2.1" fill="#c20f2a"/>
<circle cx="235.90" cy="368.80" r="2.1" fill="#c20f2a"/>
<circle cx="240.70" cy="370.40" r="2.1" fill="#c20f2a"/>
<circle cx="247.80" cy="371.20" r="2.1" fill="#c20f2a"/>
<circle cx="213.10" cy="372.80" r="2.1" fill="#c20f2a"/>
<circle cx="217.00" cy="372.00" r="2.1" fill="#c20f2a"/>
<circle cx="221.80" cy="372.80" r="2.1" fill="#c20f2a"/>
<circle cx="226.50" cy="372.00" r="2.1" fill="#c20f2a"/>
<circle cx="230.40" cy="372.80" r="2.1" fill="#c20f2a"/>
<circle cx="235.90" cy="372.00" r="2.1" fill="#c20f2a"/>
<circle cx="212.30" cy="375.10" r="2.1" fill="#c20f2a"/>
<circle cx="215.50" cy="375.90" r="2.1" fill="#c20f2a"/>
<circle cx="222.60" cy="375.10" r="2.1" fill="#c20f2a"/>
<circle cx="228.10" cy="375.90" r="2.1" fill="#c20f2a"/>
<circle cx="233.60" cy="375.10" r="2.1" fill="#c20f2a"/>
<circle cx="237.50" cy="375.90" r="2.1" fill="#c20f2a"/>
<circle cx="221.80" cy="378.00" r="2.1" fill="#c20f2a"/>
<circle cx="225.70" cy="377.50" r="2.1" fill="#c20f2a"/>
<circle cx="262.90" cy="327.70" r="2.1" fill="#c20f2a"/>
<circle cx="272.00" cy="333.40" r="2.1" fill="#c20f2a"/>
<circle cx="278.80" cy="333.40" r="2.1" fill="#c20f2a"/>
<circle cx="295.10" cy="338.10" r="2.1" fill="#c20f2a"/>
<circle cx="266.80" cy="340.80" r="2.1" fill="#c20f2a"/>
<circle cx="270.70" cy="342.50" r="2.1" fill="#c20f2a"/>
<circle cx="255.50" cy="345.30" r="2.1" fill="#c20f2a"/>
<circle cx="259.80" cy="345.80" r="2.1" fill="#c20f2a"/>
<circle cx="263.50" cy="345.10" r="2.1" fill="#c20f2a"/>
<circle cx="246.10" cy="346.90" r="2.1" fill="#c20f2a"/>
<circle cx="247.20" cy="350.10" r="2.1" fill="#c20f2a"/>
<circle cx="248.30" cy="353.40" r="2.1" fill="#c20f2a"/>
<circle cx="252.60" cy="353.40" r="2.1" fill="#c20f2a"/>
<circle cx="254.80" cy="356.70" r="2.1" fill="#c20f2a"/>
<circle cx="258.10" cy="356.70" r="2.1" fill="#c20f2a"/>
<circle cx="249.40" cy="356.70" r="2.1" fill="#c20f2a"/>
<circle cx="246.10" cy="361.00" r="2.1" fill="#c20f2a"/>
<circle cx="264.20" cy="361.50" r="2.1" fill="#c20f2a"/>
<circle cx="248.30" cy="363.20" r="2.1" fill="#c20f2a"/>
<circle cx="252.60" cy="363.70" r="2.1" fill="#c20f2a"/>
<circle cx="246.10" cy="366.50" r="2.1" fill="#c20f2a"/>
<circle cx="247.60" cy="371.50" r="2.1" fill="#c20f2a"/>
<circle cx="218.00" cy="357.50" r="2.1" fill="#c20f2a"/>
<circle cx="225.00" cy="352.50" r="2.1" fill="#c20f2a"/>
<circle cx="230.00" cy="354.00" r="2.1" fill="#c20f2a"/>
<circle cx="218.50" cy="370.50" r="2.1" fill="#c20f2a"/>
<circle cx="225.00" cy="370.50" r="2.1" fill="#c20f2a"/>
<circle cx="230.00" cy="366.50" r="2.1" fill="#c20f2a"/>
<circle cx="242.00" cy="363.00" r="2.1" fill="#c20f2a"/>
<circle cx="244.00" cy="368.50" r="2.1" fill="#c20f2a"/>
<circle cx="216.50" cy="362.50" r="2.1" fill="#c20f2a"/>
<circle cx="212.00" cy="366.50" r="2.1" fill="#c20f2a"/>
<circle cx="237.50" cy="362.50" r="2.1" fill="#c20f2a"/>
<circle cx="229.00" cy="362.00" r="2.1" fill="#c20f2a"/>
<circle cx="220.50" cy="366.50" r="2.1" fill="#c20f2a"/>
<circle cx="226.00" cy="374.00" r="2.1" fill="#c20f2a"/>
<circle cx="233.00" cy="370.00" r="2.1" fill="#c20f2a"/>
<line x1="196.70" y1="383.40" x2="317.60" y2="314.80" stroke="#1d4474" stroke-width="1.5" stroke-dasharray="2.2 2.0"/>
<line x1="195.70" y1="298.50" x2="195.70" y2="384.70" stroke="#111" stroke-width="1.1"/>
<line x1="192.50" y1="384.20" x2="195.70" y2="384.20" stroke="#111" stroke-width="1.0"/>
<text x="189.10" y="387.00" font-size="8.5" text-anchor="end" fill="#262626" font-weight="normal" textLength="4.25" lengthAdjust="spacingAndGlyphs">0</text>
<line x1="192.50" y1="357.00" x2="195.70" y2="357.00" stroke="#111" stroke-width="1.0"/>
<text x="189.10" y="359.80" font-size="8.5" text-anchor="end" fill="#262626" font-weight="normal" textLength="12.76" lengthAdjust="spacingAndGlyphs">500</text>
<line x1="192.50" y1="329.90" x2="195.70" y2="329.90" stroke="#111" stroke-width="1.0"/>
<text x="189.10" y="332.70" font-size="8.5" text-anchor="end" fill="#262626" font-weight="normal" textLength="17.02" lengthAdjust="spacingAndGlyphs">1000</text>
<line x1="192.50" y1="302.40" x2="195.70" y2="302.40" stroke="#111" stroke-width="1.0"/>
<text x="189.10" y="305.20" font-size="8.5" text-anchor="end" fill="#262626" font-weight="normal" textLength="17.02" lengthAdjust="spacingAndGlyphs">1500</text>
<line x1="192.50" y1="384.20" x2="320.00" y2="384.20" stroke="#111" stroke-width="1.1"/>
<line x1="195.70" y1="384.20" x2="195.70" y2="387.40" stroke="#111" stroke-width="1.0"/>
<text x="195.70" y="397.20" font-size="8.5" text-anchor="middle" fill="#262626" font-weight="normal" textLength="4.25" lengthAdjust="spacingAndGlyphs">0</text>
<line x1="234.00" y1="384.20" x2="234.00" y2="387.40" stroke="#111" stroke-width="1.0"/>
<text x="234.00" y="397.20" font-size="8.5" text-anchor="middle" fill="#262626" font-weight="normal" textLength="12.76" lengthAdjust="spacingAndGlyphs">500</text>
<line x1="275.00" y1="384.20" x2="275.00" y2="387.40" stroke="#111" stroke-width="1.0"/>
<text x="275.00" y="397.20" font-size="8.5" text-anchor="middle" fill="#262626" font-weight="normal" textLength="17.02" lengthAdjust="spacingAndGlyphs">1000</text>
<line x1="315.80" y1="384.20" x2="315.80" y2="387.40" stroke="#111" stroke-width="1.0"/>
<text x="315.80" y="397.20" font-size="8.5" text-anchor="middle" fill="#262626" font-weight="normal" textLength="17.02" lengthAdjust="spacingAndGlyphs">1500</text>
<text x="317.80" y="367.60" font-size="7.6" text-anchor="end" fill="#262626" font-weight="normal" textLength="35.0" lengthAdjust="spacingAndGlyphs">r = 0.4266</text>
<text x="317.80" y="379.80" font-size="7.6" text-anchor="end" fill="#262626" font-weight="normal" textLength="33.2" lengthAdjust="spacingAndGlyphs">p &lt;0.0001</text>
<line x1="4.50" y1="356.00" x2="4.50" y2="408.30" stroke="#111" stroke-width="1.2"/>
<line x1="3.90" y1="407.70" x2="58.00" y2="407.70" stroke="#111" stroke-width="1.2"/>
<polygon points="4.5,351.0 1.4,358.2 7.6,358.2" fill="#111"/>
<polygon points="63.0,407.7 55.8,404.5 55.8,410.9" fill="#111"/>
<text transform="translate(7.52,348.10) rotate(-90)" font-size="9.0" fill="#262626" textLength="46.6" lengthAdjust="spacingAndGlyphs">CD11b area</text>
<text x="65.40" y="411.40" font-size="9.2" text-anchor="start" fill="#262626" font-weight="normal" textLength="41.2" lengthAdjust="spacingAndGlyphs">CD71 area</text>
<rect x="374.70" y="316.90" width="15.30" height="67.30" fill="#e8867d"/>
<line x1="382.30" y1="308.20" x2="382.30" y2="325.20" stroke="#7c1626" stroke-width="1.3"/>
<line x1="378.50" y1="308.20" x2="386.10" y2="308.20" stroke="#7c1626" stroke-width="1.4"/>
<line x1="378.50" y1="325.20" x2="386.10" y2="325.20" stroke="#7c1626" stroke-width="1.4"/>
<circle cx="382.30" cy="310.50" r="1.35" fill="#c20f2a"/>
<circle cx="382.30" cy="322.60" r="1.35" fill="#c20f2a"/>
<rect x="395.80" y="311.00" width="15.40" height="73.20" fill="#8b94b8"/>
<line x1="403.60" y1="303.20" x2="403.60" y2="318.30" stroke="#1a2b45" stroke-width="1.3"/>
<line x1="399.80" y1="303.20" x2="407.40" y2="303.20" stroke="#1a2b45" stroke-width="1.4"/>
<line x1="399.80" y1="318.30" x2="407.40" y2="318.30" stroke="#1a2b45" stroke-width="1.4"/>
<circle cx="403.60" cy="305.30" r="1.35" fill="#1c3f6e"/>
<circle cx="403.60" cy="316.00" r="1.35" fill="#1c3f6e"/>
<line x1="367.30" y1="299.00" x2="367.30" y2="384.70" stroke="#111" stroke-width="1.1"/>
<line x1="364.10" y1="384.20" x2="367.30" y2="384.20" stroke="#111" stroke-width="1.0"/>
<text x="360.70" y="387.00" font-size="8.5" text-anchor="end" fill="#262626" font-weight="normal" textLength="10.63" lengthAdjust="spacingAndGlyphs">0.0</text>
<line x1="364.10" y1="344.00" x2="367.30" y2="344.00" stroke="#111" stroke-width="1.0"/>
<text x="360.70" y="346.80" font-size="8.5" text-anchor="end" fill="#262626" font-weight="normal" textLength="10.63" lengthAdjust="spacingAndGlyphs">0.5</text>
<line x1="364.10" y1="303.40" x2="367.30" y2="303.40" stroke="#111" stroke-width="1.0"/>
<text x="360.70" y="306.20" font-size="8.5" text-anchor="end" fill="#262626" font-weight="normal" textLength="10.63" lengthAdjust="spacingAndGlyphs">1.0</text>
<line x1="364.10" y1="384.20" x2="421.40" y2="384.20" stroke="#111" stroke-width="1.1"/>
<line x1="382.30" y1="384.20" x2="382.30" y2="387.40" stroke="#111" stroke-width="1.0"/>
<text x="382.30" y="397.30" font-size="8.5" text-anchor="middle" fill="#262626" font-weight="normal" textLength="11.89" lengthAdjust="spacingAndGlyphs">WT</text>
<line x1="403.60" y1="384.20" x2="403.60" y2="387.40" stroke="#111" stroke-width="1.0"/>
<text x="403.60" y="397.30" font-size="8.5" text-anchor="middle" fill="#262626" font-weight="normal" textLength="12.75" lengthAdjust="spacingAndGlyphs">CIA</text>
<text transform="translate(343.70,378.50) rotate(-90)" font-size="8.8" fill="#262626" textLength="75.0" lengthAdjust="spacingAndGlyphs">CD11b vs. CD71 slope</text>
<line x1="468.50" y1="353.70" x2="486.30" y2="353.70" stroke="#4f6f8f" stroke-width="1.1" stroke-dasharray="1.1 1.3"/>
<circle cx="478.20" cy="357.41" r="1.2" fill="#c8102e"/>
<circle cx="476.42" cy="357.48" r="1.2" fill="#c8102e"/>
<circle cx="479.98" cy="357.51" r="1.2" fill="#c8102e"/>
<circle cx="474.64" cy="357.63" r="1.2" fill="#c8102e"/>
<circle cx="481.76" cy="357.72" r="1.2" fill="#c8102e"/>
<circle cx="472.87" cy="357.94" r="1.2" fill="#c8102e"/>
<circle cx="483.53" cy="358.66" r="1.2" fill="#c8102e"/>
<circle cx="471.09" cy="358.71" r="1.2" fill="#c8102e"/>
<circle cx="485.31" cy="358.91" r="1.2" fill="#c8102e"/>
<circle cx="477.25" cy="355.79" r="1.2" fill="#c8102e"/>
<circle cx="479.15" cy="356.36" r="1.2" fill="#c8102e"/>
<circle cx="475.35" cy="356.52" r="1.2" fill="#c8102e"/>
<circle cx="481.05" cy="356.65" r="1.2" fill="#c8102e"/>
<circle cx="473.45" cy="356.72" r="1.2" fill="#c8102e"/>
<circle cx="482.95" cy="356.87" r="1.2" fill="#c8102e"/>
<circle cx="478.20" cy="348.50" r="1.2" fill="#c8102e"/>
<circle cx="476.30" cy="348.52" r="1.2" fill="#c8102e"/>
<circle cx="480.10" cy="348.62" r="1.2" fill="#c8102e"/>
<circle cx="474.40" cy="349.23" r="1.2" fill="#c8102e"/>
<circle cx="482.00" cy="349.48" r="1.2" fill="#c8102e"/>
<circle cx="478.20" cy="353.94" r="1.2" fill="#c8102e"/>
<circle cx="476.30" cy="354.10" r="1.2" fill="#c8102e"/>
<circle cx="480.10" cy="354.34" r="1.2" fill="#c8102e"/>
<circle cx="474.40" cy="354.53" r="1.2" fill="#c8102e"/>
<circle cx="482.00" cy="354.54" r="1.2" fill="#c8102e"/>
<circle cx="472.50" cy="354.79" r="1.2" fill="#c8102e"/>
<circle cx="483.90" cy="355.29" r="1.2" fill="#c8102e"/>
<circle cx="477.25" cy="361.01" r="1.2" fill="#c8102e"/>
<circle cx="479.15" cy="361.51" r="1.2" fill="#c8102e"/>
<circle cx="475.35" cy="361.73" r="1.2" fill="#c8102e"/>
<circle cx="481.05" cy="362.09" r="1.2" fill="#c8102e"/>
<circle cx="473.45" cy="362.44" r="1.2" fill="#c8102e"/>
<circle cx="482.95" cy="362.54" r="1.2" fill="#c8102e"/>
<circle cx="478.20" cy="350.62" r="1.2" fill="#c8102e"/>
<circle cx="476.30" cy="350.63" r="1.2" fill="#c8102e"/>
<circle cx="480.10" cy="350.71" r="1.2" fill="#c8102e"/>
<circle cx="474.40" cy="350.74" r="1.2" fill="#c8102e"/>
<circle cx="482.00" cy="351.29" r="1.2" fill="#c8102e"/>
<circle cx="472.50" cy="351.59" r="1.2" fill="#c8102e"/>
<circle cx="483.90" cy="351.86" r="1.2" fill="#c8102e"/>
<circle cx="477.25" cy="363.03" r="1.2" fill="#c8102e"/>
<circle cx="479.15" cy="364.17" r="1.2" fill="#c8102e"/>
<circle cx="475.35" cy="364.23" r="1.2" fill="#c8102e"/>
<circle cx="481.05" cy="364.29" r="1.2" fill="#c8102e"/>
<circle cx="478.20" cy="359.88" r="1.2" fill="#c8102e"/>
<circle cx="476.30" cy="360.19" r="1.2" fill="#c8102e"/>
<circle cx="480.10" cy="360.40" r="1.2" fill="#c8102e"/>
<circle cx="474.40" cy="360.66" r="1.2" fill="#c8102e"/>
<circle cx="482.00" cy="360.86" r="1.2" fill="#c8102e"/>
<circle cx="477.25" cy="352.07" r="1.2" fill="#c8102e"/>
<circle cx="479.15" cy="352.22" r="1.2" fill="#c8102e"/>
<circle cx="475.35" cy="353.13" r="1.2" fill="#c8102e"/>
<circle cx="481.05" cy="353.39" r="1.2" fill="#c8102e"/>
<circle cx="478.20" cy="364.55" r="1.2" fill="#c8102e"/>
<circle cx="476.30" cy="364.60" r="1.2" fill="#c8102e"/>
<circle cx="480.10" cy="364.79" r="1.2" fill="#c8102e"/>
<circle cx="474.40" cy="365.11" r="1.2" fill="#c8102e"/>
<circle cx="482.00" cy="365.32" r="1.2" fill="#c8102e"/>
<circle cx="472.50" cy="365.59" r="1.2" fill="#c8102e"/>
<circle cx="483.90" cy="365.85" r="1.2" fill="#c8102e"/>
<circle cx="477.25" cy="346.65" r="1.2" fill="#c8102e"/>
<circle cx="479.15" cy="346.77" r="1.2" fill="#c8102e"/>
<circle cx="475.35" cy="346.93" r="1.2" fill="#c8102e"/>
<circle cx="481.05" cy="347.31" r="1.2" fill="#c8102e"/>
<circle cx="473.45" cy="347.91" r="1.2" fill="#c8102e"/>
<circle cx="482.95" cy="347.95" r="1.2" fill="#c8102e"/>
<circle cx="471.55" cy="348.19" r="1.2" fill="#c8102e"/>
<circle cx="484.85" cy="348.22" r="1.2" fill="#c8102e"/>
<circle cx="478.20" cy="345.57" r="1.2" fill="#c8102e"/>
<circle cx="476.30" cy="346.09" r="1.2" fill="#c8102e"/>
<circle cx="480.10" cy="346.21" r="1.2" fill="#c8102e"/>
<circle cx="477.25" cy="340.42" r="1.2" fill="#c8102e"/>
<circle cx="479.15" cy="341.03" r="1.2" fill="#c8102e"/>
<circle cx="477.25" cy="341.86" r="1.2" fill="#c8102e"/>
<circle cx="479.15" cy="342.65" r="1.2" fill="#c8102e"/>
<circle cx="478.20" cy="343.69" r="1.2" fill="#c8102e"/>
<circle cx="478.20" cy="336.45" r="1.2" fill="#c8102e"/>
<circle cx="478.20" cy="334.03" r="1.2" fill="#c8102e"/>
<circle cx="478.20" cy="331.26" r="1.2" fill="#c8102e"/>
<circle cx="478.20" cy="326.07" r="1.2" fill="#c8102e"/>
<circle cx="478.20" cy="323.65" r="1.2" fill="#c8102e"/>
<circle cx="478.20" cy="315.00" r="1.2" fill="#c8102e"/>
<circle cx="478.20" cy="370.36" r="1.2" fill="#c8102e"/>
<line x1="493.00" y1="351.20" x2="513.40" y2="351.20" stroke="#4f6f8f" stroke-width="1.1" stroke-dasharray="1.1 1.3"/>
<circle cx="502.15" cy="359.13" r="1.2" fill="#1b4f8a"/>
<circle cx="504.05" cy="359.21" r="1.2" fill="#1b4f8a"/>
<circle cx="500.25" cy="359.55" r="1.2" fill="#1b4f8a"/>
<circle cx="505.95" cy="359.99" r="1.2" fill="#1b4f8a"/>
<circle cx="498.35" cy="360.14" r="1.2" fill="#1b4f8a"/>
<circle cx="507.85" cy="360.18" r="1.2" fill="#1b4f8a"/>
<circle cx="496.45" cy="360.30" r="1.2" fill="#1b4f8a"/>
<circle cx="509.75" cy="360.50" r="1.2" fill="#1b4f8a"/>
<circle cx="502.15" cy="355.67" r="1.2" fill="#1b4f8a"/>
<circle cx="504.05" cy="356.03" r="1.2" fill="#1b4f8a"/>
<circle cx="500.25" cy="356.41" r="1.2" fill="#1b4f8a"/>
<circle cx="505.95" cy="356.41" r="1.2" fill="#1b4f8a"/>
<circle cx="498.35" cy="356.73" r="1.2" fill="#1b4f8a"/>
<circle cx="507.85" cy="356.99" r="1.2" fill="#1b4f8a"/>
<circle cx="502.42" cy="357.49" r="1.2" fill="#1b4f8a"/>
<circle cx="503.78" cy="357.79" r="1.2" fill="#1b4f8a"/>
<circle cx="501.05" cy="357.88" r="1.2" fill="#1b4f8a"/>
<circle cx="505.15" cy="358.19" r="1.2" fill="#1b4f8a"/>
<circle cx="499.68" cy="358.33" r="1.2" fill="#1b4f8a"/>
<circle cx="506.52" cy="358.43" r="1.2" fill="#1b4f8a"/>
<circle cx="498.32" cy="358.51" r="1.2" fill="#1b4f8a"/>
<circle cx="507.88" cy="358.56" r="1.2" fill="#1b4f8a"/>
<circle cx="496.95" cy="358.86" r="1.2" fill="#1b4f8a"/>
<circle cx="509.25" cy="358.86" r="1.2" fill="#1b4f8a"/>
<circle cx="495.58" cy="358.89" r="1.2" fill="#1b4f8a"/>
<circle cx="510.62" cy="359.05" r="1.2" fill="#1b4f8a"/>
<circle cx="503.10" cy="348.85" r="1.2" fill="#1b4f8a"/>
<circle cx="501.20" cy="348.94" r="1.2" fill="#1b4f8a"/>
<circle cx="505.00" cy="349.42" r="1.2" fill="#1b4f8a"/>
<circle cx="499.30" cy="349.73" r="1.2" fill="#1b4f8a"/>
<circle cx="506.90" cy="349.94" r="1.2" fill="#1b4f8a"/>
<circle cx="497.40" cy="350.04" r="1.2" fill="#1b4f8a"/>
<circle cx="508.80" cy="350.08" r="1.2" fill="#1b4f8a"/>
<circle cx="502.15" cy="351.91" r="1.2" fill="#1b4f8a"/>
<circle cx="504.05" cy="352.27" r="1.2" fill="#1b4f8a"/>
<circle cx="500.25" cy="352.67" r="1.2" fill="#1b4f8a"/>
<circle cx="505.95" cy="353.08" r="1.2" fill="#1b4f8a"/>
<circle cx="502.15" cy="350.19" r="1.2" fill="#1b4f8a"/>
<circle cx="504.05" cy="350.30" r="1.2" fill="#1b4f8a"/>
<circle cx="500.25" cy="350.68" r="1.2" fill="#1b4f8a"/>
<circle cx="505.95" cy="350.95" r="1.2" fill="#1b4f8a"/>
<circle cx="498.35" cy="350.99" r="1.2" fill="#1b4f8a"/>
<circle cx="507.85" cy="351.17" r="1.2" fill="#1b4f8a"/>
<circle cx="496.45" cy="351.31" r="1.2" fill="#1b4f8a"/>
<circle cx="509.75" cy="351.74" r="1.2" fill="#1b4f8a"/>
<circle cx="503.10" cy="353.81" r="1.2" fill="#1b4f8a"/>
<circle cx="501.20" cy="354.26" r="1.2" fill="#1b4f8a"/>
<circle cx="505.00" cy="354.29" r="1.2" fill="#1b4f8a"/>
<circle cx="499.30" cy="354.51" r="1.2" fill="#1b4f8a"/>
<circle cx="506.90" cy="354.60" r="1.2" fill="#1b4f8a"/>
<circle cx="503.10" cy="360.91" r="1.2" fill="#1b4f8a"/>
<circle cx="502.15" cy="346.64" r="1.2" fill="#1b4f8a"/>
<circle cx="504.05" cy="346.99" r="1.2" fill="#1b4f8a"/>
<circle cx="500.25" cy="347.29" r="1.2" fill="#1b4f8a"/>
<circle cx="505.95" cy="347.62" r="1.2" fill="#1b4f8a"/>
<circle cx="498.35" cy="347.63" r="1.2" fill="#1b4f8a"/>
<circle cx="507.85" cy="348.14" r="1.2" fill="#1b4f8a"/>
<circle cx="502.15" cy="336.39" r="1.2" fill="#1b4f8a"/>
<circle cx="504.05" cy="337.15" r="1.2" fill="#1b4f8a"/>
<circle cx="502.15" cy="341.47" r="1.2" fill="#1b4f8a"/>
<circle cx="504.05" cy="341.78" r="1.2" fill="#1b4f8a"/>
<circle cx="500.25" cy="342.18" r="1.2" fill="#1b4f8a"/>
<circle cx="505.95" cy="342.39" r="1.2" fill="#1b4f8a"/>
<circle cx="503.10" cy="345.19" r="1.2" fill="#1b4f8a"/>
<circle cx="501.20" cy="345.28" r="1.2" fill="#1b4f8a"/>
<circle cx="505.00" cy="346.18" r="1.2" fill="#1b4f8a"/>
<circle cx="499.30" cy="346.35" r="1.2" fill="#1b4f8a"/>
<circle cx="506.90" cy="346.49" r="1.2" fill="#1b4f8a"/>
<circle cx="502.15" cy="339.49" r="1.2" fill="#1b4f8a"/>
<circle cx="504.05" cy="340.71" r="1.2" fill="#1b4f8a"/>
<circle cx="502.15" cy="334.31" r="1.2" fill="#1b4f8a"/>
<circle cx="504.05" cy="335.23" r="1.2" fill="#1b4f8a"/>
<circle cx="503.10" cy="344.12" r="1.2" fill="#1b4f8a"/>
<circle cx="503.10" cy="331.14" r="1.2" fill="#1b4f8a"/>
<circle cx="503.10" cy="318.81" r="1.2" fill="#1b4f8a"/>
<circle cx="503.10" cy="317.08" r="1.2" fill="#1b4f8a"/>
<circle cx="503.10" cy="311.54" r="1.2" fill="#1b4f8a"/>
<circle cx="503.10" cy="364.82" r="1.2" fill="#1b4f8a"/>
<circle cx="503.10" cy="369.67" r="1.2" fill="#1b4f8a"/>
<circle cx="503.10" cy="373.82" r="1.2" fill="#1b4f8a"/>
<line x1="461.70" y1="294.00" x2="461.70" y2="384.70" stroke="#111" stroke-width="1.1"/>
<line x1="458.50" y1="384.20" x2="461.70" y2="384.20" stroke="#111" stroke-width="1.0"/>
<text x="455.10" y="387.00" font-size="8.5" text-anchor="end" fill="#262626" font-weight="normal" textLength="10.63" lengthAdjust="spacingAndGlyphs">0.0</text>
<line x1="458.50" y1="366.90" x2="461.70" y2="366.90" stroke="#111" stroke-width="1.0"/>
<text x="455.10" y="369.70" font-size="8.5" text-anchor="end" fill="#262626" font-weight="normal" textLength="10.63" lengthAdjust="spacingAndGlyphs">0.5</text>
<line x1="458.50" y1="349.60" x2="461.70" y2="349.60" stroke="#111" stroke-width="1.0"/>
<text x="455.10" y="352.40" font-size="8.5" text-anchor="end" fill="#262626" font-weight="normal" textLength="10.63" lengthAdjust="spacingAndGlyphs">1.0</text>
<line x1="458.50" y1="332.60" x2="461.70" y2="332.60" stroke="#111" stroke-width="1.0"/>
<text x="455.10" y="335.40" font-size="8.5" text-anchor="end" fill="#262626" font-weight="normal" textLength="10.63" lengthAdjust="spacingAndGlyphs">1.5</text>
<line x1="458.50" y1="315.30" x2="461.70" y2="315.30" stroke="#111" stroke-width="1.0"/>
<text x="455.10" y="318.10" font-size="8.5" text-anchor="end" fill="#262626" font-weight="normal" textLength="10.63" lengthAdjust="spacingAndGlyphs">2.0</text>
<line x1="458.50" y1="298.00" x2="461.70" y2="298.00" stroke="#111" stroke-width="1.0"/>
<text x="455.10" y="300.80" font-size="8.5" text-anchor="end" fill="#262626" font-weight="normal" textLength="10.63" lengthAdjust="spacingAndGlyphs">2.5</text>
<line x1="458.50" y1="384.20" x2="520.50" y2="384.20" stroke="#111" stroke-width="1.1"/>
<line x1="478.00" y1="384.20" x2="478.00" y2="387.40" stroke="#111" stroke-width="1.0"/>
<text x="478.00" y="397.40" font-size="8.5" text-anchor="middle" fill="#262626" font-weight="normal" textLength="26.85" lengthAdjust="spacingAndGlyphs">Control</text>
<line x1="503.20" y1="384.20" x2="503.20" y2="387.40" stroke="#111" stroke-width="1.0"/>
<text x="503.20" y="397.40" font-size="8.5" text-anchor="middle" fill="#262626" font-weight="normal" textLength="12.75" lengthAdjust="spacingAndGlyphs">CIA</text>
<text transform="translate(437.70,381.50) rotate(-90)" font-size="8.8" fill="#262626" textLength="81.5" lengthAdjust="spacingAndGlyphs">CD11b: CD71 area ratio</text>
<line x1="478.30" y1="302.20" x2="502.70" y2="302.20" stroke="#333" stroke-width="1.15"/>
<polygon points="490.50,295.30 491.09,296.49 492.40,296.68 491.45,297.61 491.68,298.92 490.50,298.30 489.32,298.92 489.55,297.61 488.60,296.68 489.91,296.49" fill="#222"/>
</svg></body></html>
